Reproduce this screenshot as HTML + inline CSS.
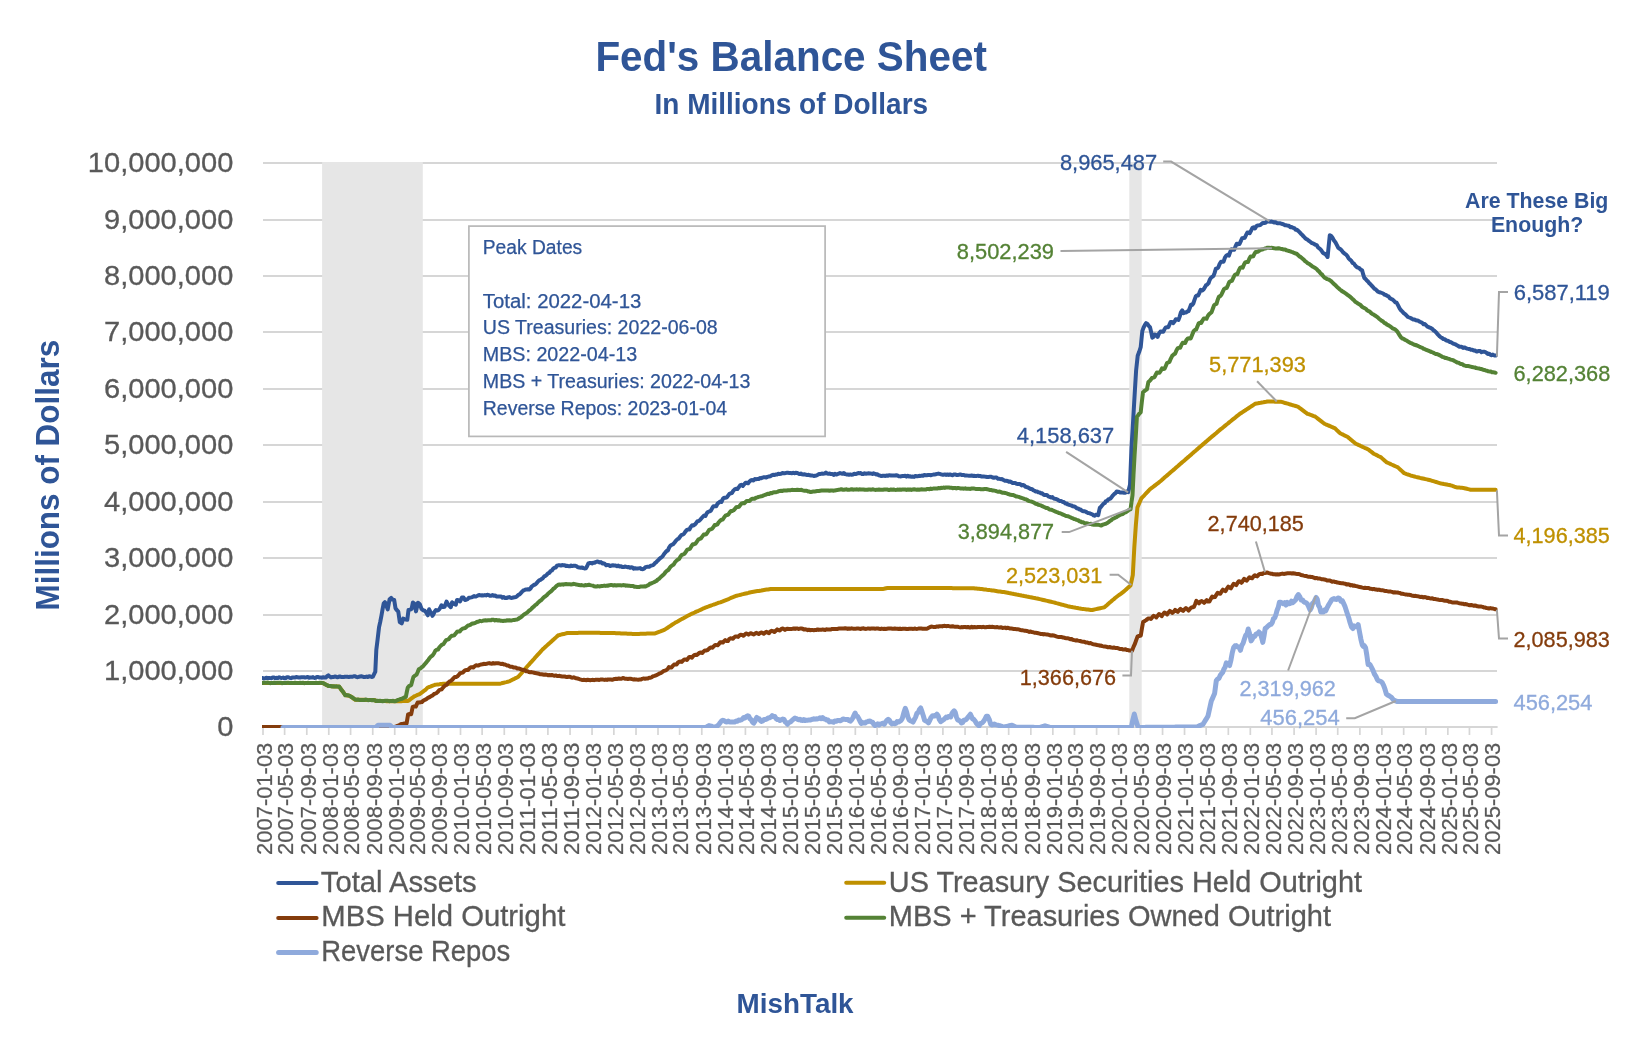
<!DOCTYPE html>
<html lang="en"><head><meta charset="utf-8"><title>Fed's Balance Sheet</title>
<style>html,body{margin:0;padding:0;background:#fff}svg{display:block}svg{will-change:transform}text{font-family:"Liberation Sans",sans-serif}.ser{fill:none;stroke-linejoin:round;stroke-linecap:round}.ld{fill:none;stroke:#A4A4A4;stroke-width:2;stroke-linejoin:miter}</style></head><body>
<svg width="1627" height="1045" viewBox="0 0 1627 1045">
<rect width="1627" height="1045" fill="#fff"/>
<line x1="263.0" x2="1497.0" y1="671.00" y2="671.00" stroke="#D6D6D6" stroke-width="2"/>
<line x1="263.0" x2="1497.0" y1="615.00" y2="615.00" stroke="#D6D6D6" stroke-width="2"/>
<line x1="263.0" x2="1497.0" y1="558.00" y2="558.00" stroke="#D6D6D6" stroke-width="2"/>
<line x1="263.0" x2="1497.0" y1="502.00" y2="502.00" stroke="#D6D6D6" stroke-width="2"/>
<line x1="263.0" x2="1497.0" y1="445.00" y2="445.00" stroke="#D6D6D6" stroke-width="2"/>
<line x1="263.0" x2="1497.0" y1="389.00" y2="389.00" stroke="#D6D6D6" stroke-width="2"/>
<line x1="263.0" x2="1497.0" y1="332.00" y2="332.00" stroke="#D6D6D6" stroke-width="2"/>
<line x1="263.0" x2="1497.0" y1="276.00" y2="276.00" stroke="#D6D6D6" stroke-width="2"/>
<line x1="263.0" x2="1497.0" y1="220.00" y2="220.00" stroke="#D6D6D6" stroke-width="2"/>
<line x1="263.0" x2="1497.0" y1="163.00" y2="163.00" stroke="#D6D6D6" stroke-width="2"/>
<line x1="263.0" x2="1497.6" y1="727.00" y2="727.00" stroke="#D6D6D6" stroke-width="2"/>
<line x1="263.00" x2="263.00" y1="727.0" y2="735.0" stroke="#D6D6D6" stroke-width="1.7"/>
<line x1="284.62" x2="284.62" y1="727.0" y2="735.0" stroke="#D6D6D6" stroke-width="1.7"/>
<line x1="306.79" x2="306.79" y1="727.0" y2="735.0" stroke="#D6D6D6" stroke-width="1.7"/>
<line x1="328.77" x2="328.77" y1="727.0" y2="735.0" stroke="#D6D6D6" stroke-width="1.7"/>
<line x1="350.58" x2="350.58" y1="727.0" y2="735.0" stroke="#D6D6D6" stroke-width="1.7"/>
<line x1="372.74" x2="372.74" y1="727.0" y2="735.0" stroke="#D6D6D6" stroke-width="1.7"/>
<line x1="394.73" x2="394.73" y1="727.0" y2="735.0" stroke="#D6D6D6" stroke-width="1.7"/>
<line x1="416.35" x2="416.35" y1="727.0" y2="735.0" stroke="#D6D6D6" stroke-width="1.7"/>
<line x1="438.51" x2="438.51" y1="727.0" y2="735.0" stroke="#D6D6D6" stroke-width="1.7"/>
<line x1="460.50" x2="460.50" y1="727.0" y2="735.0" stroke="#D6D6D6" stroke-width="1.7"/>
<line x1="482.12" x2="482.12" y1="727.0" y2="735.0" stroke="#D6D6D6" stroke-width="1.7"/>
<line x1="504.29" x2="504.29" y1="727.0" y2="735.0" stroke="#D6D6D6" stroke-width="1.7"/>
<line x1="526.27" x2="526.27" y1="727.0" y2="735.0" stroke="#D6D6D6" stroke-width="1.7"/>
<line x1="547.90" x2="547.90" y1="727.0" y2="735.0" stroke="#D6D6D6" stroke-width="1.7"/>
<line x1="570.06" x2="570.06" y1="727.0" y2="735.0" stroke="#D6D6D6" stroke-width="1.7"/>
<line x1="592.05" x2="592.05" y1="727.0" y2="735.0" stroke="#D6D6D6" stroke-width="1.7"/>
<line x1="613.85" x2="613.85" y1="727.0" y2="735.0" stroke="#D6D6D6" stroke-width="1.7"/>
<line x1="636.01" x2="636.01" y1="727.0" y2="735.0" stroke="#D6D6D6" stroke-width="1.7"/>
<line x1="658.00" x2="658.00" y1="727.0" y2="735.0" stroke="#D6D6D6" stroke-width="1.7"/>
<line x1="679.62" x2="679.62" y1="727.0" y2="735.0" stroke="#D6D6D6" stroke-width="1.7"/>
<line x1="701.79" x2="701.79" y1="727.0" y2="735.0" stroke="#D6D6D6" stroke-width="1.7"/>
<line x1="723.77" x2="723.77" y1="727.0" y2="735.0" stroke="#D6D6D6" stroke-width="1.7"/>
<line x1="745.40" x2="745.40" y1="727.0" y2="735.0" stroke="#D6D6D6" stroke-width="1.7"/>
<line x1="767.56" x2="767.56" y1="727.0" y2="735.0" stroke="#D6D6D6" stroke-width="1.7"/>
<line x1="789.54" x2="789.54" y1="727.0" y2="735.0" stroke="#D6D6D6" stroke-width="1.7"/>
<line x1="811.17" x2="811.17" y1="727.0" y2="735.0" stroke="#D6D6D6" stroke-width="1.7"/>
<line x1="833.33" x2="833.33" y1="727.0" y2="735.0" stroke="#D6D6D6" stroke-width="1.7"/>
<line x1="855.32" x2="855.32" y1="727.0" y2="735.0" stroke="#D6D6D6" stroke-width="1.7"/>
<line x1="877.12" x2="877.12" y1="727.0" y2="735.0" stroke="#D6D6D6" stroke-width="1.7"/>
<line x1="899.29" x2="899.29" y1="727.0" y2="735.0" stroke="#D6D6D6" stroke-width="1.7"/>
<line x1="921.27" x2="921.27" y1="727.0" y2="735.0" stroke="#D6D6D6" stroke-width="1.7"/>
<line x1="942.89" x2="942.89" y1="727.0" y2="735.0" stroke="#D6D6D6" stroke-width="1.7"/>
<line x1="965.06" x2="965.06" y1="727.0" y2="735.0" stroke="#D6D6D6" stroke-width="1.7"/>
<line x1="987.04" x2="987.04" y1="727.0" y2="735.0" stroke="#D6D6D6" stroke-width="1.7"/>
<line x1="1008.67" x2="1008.67" y1="727.0" y2="735.0" stroke="#D6D6D6" stroke-width="1.7"/>
<line x1="1030.83" x2="1030.83" y1="727.0" y2="735.0" stroke="#D6D6D6" stroke-width="1.7"/>
<line x1="1052.82" x2="1052.82" y1="727.0" y2="735.0" stroke="#D6D6D6" stroke-width="1.7"/>
<line x1="1074.44" x2="1074.44" y1="727.0" y2="735.0" stroke="#D6D6D6" stroke-width="1.7"/>
<line x1="1096.61" x2="1096.61" y1="727.0" y2="735.0" stroke="#D6D6D6" stroke-width="1.7"/>
<line x1="1118.59" x2="1118.59" y1="727.0" y2="735.0" stroke="#D6D6D6" stroke-width="1.7"/>
<line x1="1140.39" x2="1140.39" y1="727.0" y2="735.0" stroke="#D6D6D6" stroke-width="1.7"/>
<line x1="1162.56" x2="1162.56" y1="727.0" y2="735.0" stroke="#D6D6D6" stroke-width="1.7"/>
<line x1="1184.54" x2="1184.54" y1="727.0" y2="735.0" stroke="#D6D6D6" stroke-width="1.7"/>
<line x1="1206.17" x2="1206.17" y1="727.0" y2="735.0" stroke="#D6D6D6" stroke-width="1.7"/>
<line x1="1228.33" x2="1228.33" y1="727.0" y2="735.0" stroke="#D6D6D6" stroke-width="1.7"/>
<line x1="1250.32" x2="1250.32" y1="727.0" y2="735.0" stroke="#D6D6D6" stroke-width="1.7"/>
<line x1="1271.94" x2="1271.94" y1="727.0" y2="735.0" stroke="#D6D6D6" stroke-width="1.7"/>
<line x1="1294.10" x2="1294.10" y1="727.0" y2="735.0" stroke="#D6D6D6" stroke-width="1.7"/>
<line x1="1316.09" x2="1316.09" y1="727.0" y2="735.0" stroke="#D6D6D6" stroke-width="1.7"/>
<line x1="1337.71" x2="1337.71" y1="727.0" y2="735.0" stroke="#D6D6D6" stroke-width="1.7"/>
<line x1="1359.88" x2="1359.88" y1="727.0" y2="735.0" stroke="#D6D6D6" stroke-width="1.7"/>
<line x1="1381.86" x2="1381.86" y1="727.0" y2="735.0" stroke="#D6D6D6" stroke-width="1.7"/>
<line x1="1403.67" x2="1403.67" y1="727.0" y2="735.0" stroke="#D6D6D6" stroke-width="1.7"/>
<line x1="1425.83" x2="1425.83" y1="727.0" y2="735.0" stroke="#D6D6D6" stroke-width="1.7"/>
<line x1="1447.82" x2="1447.82" y1="727.0" y2="735.0" stroke="#D6D6D6" stroke-width="1.7"/>
<line x1="1469.44" x2="1469.44" y1="727.0" y2="735.0" stroke="#D6D6D6" stroke-width="1.7"/>
<line x1="1491.60" x2="1491.60" y1="727.0" y2="735.0" stroke="#D6D6D6" stroke-width="1.7"/>
<rect x="322.1" y="162" width="100.7" height="564.9" fill="#E6E6E6"/>
<rect x="1129.3" y="162" width="12.4" height="564.9" fill="#E6E6E6"/>
<rect x="468.9" y="226.1" width="356.2" height="210.3" fill="#fff" stroke="#B8B8B8" stroke-width="1.7"/>
<clipPath id="pc"><rect x="262" y="150" width="1236.3" height="578"/></clipPath><g clip-path="url(#pc)">
<path class="ser" d="M262.3,678.0 L263.6,678.4 L264.9,678.3 L266.2,677.7 L267.5,677.9 L268.8,677.9 L270.1,678.1 L271.4,678.2 L272.7,677.4 L274.0,677.4 L275.3,678.2 L276.6,677.8 L277.9,678.1 L279.2,677.3 L280.5,677.7 L281.8,678.0 L283.1,677.5 L284.4,678.3 L285.7,678.2 L287.0,677.2 L288.3,677.2 L289.6,677.8 L290.9,678.2 L292.2,677.6 L293.5,677.4 L294.8,677.6 L296.1,677.1 L297.4,677.3 L298.7,677.5 L300.0,677.6 L301.3,677.3 L302.6,677.3 L303.9,677.2 L305.2,677.5 L306.5,677.3 L307.8,677.0 L309.1,677.8 L310.4,677.5 L311.7,677.6 L313.0,677.1 L314.3,677.9 L315.6,677.8 L316.9,676.9 L318.2,677.1 L319.5,677.5 L320.8,677.5 L322.1,677.7 L323.4,677.2 L324.7,677.6 L326.0,677.4 L327.2,676.0 L328.5,675.4 L329.8,676.6 L331.0,677.4 L332.3,677.0 L333.5,677.1 L334.8,676.4 L336.1,676.7 L337.3,677.3 L338.6,676.8 L339.9,676.5 L341.1,676.9 L342.4,677.1 L343.7,677.1 L344.9,676.7 L346.2,676.8 L347.5,676.8 L348.7,677.1 L350.0,676.8 L351.3,676.7 L352.5,676.8 L353.8,676.2 L355.1,676.2 L356.4,676.9 L357.6,677.2 L358.9,676.8 L360.2,676.5 L361.4,676.3 L362.7,676.6 L364.0,677.1 L365.3,676.9 L366.5,676.6 L367.8,677.0 L369.1,676.3 L370.4,676.5 L371.6,677.0 L372.9,676.6 L374.1,674.2 L375.3,671.7 L376.3,650.1 L377.6,639.5 L379.0,627.4 L380.2,622.0 L381.4,615.8 L382.5,609.6 L383.7,603.3 L384.9,602.1 L386.3,605.6 L387.7,609.4 L389.6,599.2 L391.1,597.9 L392.6,599.6 L394.2,600.0 L395.5,608.3 L396.9,610.2 L398.3,611.7 L399.8,622.1 L401.7,623.4 L403.2,618.6 L404.6,619.1 L405.9,619.5 L407.3,619.8 L408.5,610.0 L410.1,609.6 L411.6,608.9 L412.9,602.5 L414.8,604.1 L416.0,611.4 L417.9,602.7 L419.7,604.0 L421.6,609.0 L423.1,610.3 L424.7,610.7 L426.2,612.5 L427.8,615.3 L429.1,609.3 L430.2,611.5 L431.4,613.4 L432.5,615.8 L433.6,613.9 L434.8,611.4 L435.9,610.0 L437.1,610.6 L438.4,610.1 L439.6,608.9 L441.5,605.3 L443.1,607.1 L444.6,606.7 L446.5,601.6 L447.9,604.0 L449.4,605.9 L450.8,607.2 L452.1,602.3 L453.3,603.1 L454.6,604.2 L455.8,604.7 L457.0,599.9 L458.6,600.2 L460.1,601.3 L462.0,597.4 L463.5,597.6 L465.0,600.0 L466.2,599.8 L467.5,599.2 L468.8,597.7 L470.0,597.7 L471.4,597.3 L472.8,596.8 L474.2,596.1 L475.6,596.6 L477.0,596.0 L478.4,595.3 L479.7,595.0 L481.0,595.5 L482.2,595.2 L483.5,595.4 L484.8,595.1 L486.1,595.4 L487.4,594.8 L488.7,595.1 L489.9,595.8 L491.2,595.7 L492.5,595.1 L493.8,595.7 L495.0,595.4 L496.3,596.4 L497.5,596.4 L498.8,596.4 L500.0,596.5 L501.2,596.5 L502.5,597.7 L503.7,597.1 L505.1,597.9 L506.4,598.0 L507.8,597.5 L509.2,597.1 L510.5,597.8 L511.9,597.9 L513.3,597.5 L514.6,597.3 L516.0,597.1 L517.2,596.0 L518.4,594.8 L519.6,594.3 L520.9,593.0 L522.1,591.6 L523.3,590.5 L524.5,590.1 L525.6,589.5 L526.8,589.5 L528.0,589.2 L529.1,589.6 L530.4,588.6 L531.6,586.6 L532.9,585.7 L534.1,584.8 L535.4,584.5 L536.6,583.2 L537.9,581.6 L539.1,580.4 L540.4,579.9 L541.6,579.0 L542.9,578.1 L544.2,576.4 L545.5,575.9 L546.8,574.7 L548.0,573.4 L549.3,572.9 L550.6,571.0 L551.9,570.5 L553.2,568.7 L554.4,567.8 L555.7,567.6 L557.0,565.7 L558.3,565.3 L559.6,565.2 L560.9,565.6 L562.1,565.1 L563.4,565.2 L564.7,565.2 L566.0,566.0 L567.3,565.8 L568.6,566.2 L569.9,566.3 L571.1,565.5 L572.4,566.1 L573.7,565.7 L575.1,565.8 L576.4,566.1 L577.8,567.3 L579.1,567.4 L580.5,567.7 L581.8,567.5 L583.2,568.0 L584.5,568.5 L585.9,568.3 L587.1,566.2 L588.3,563.5 L589.5,563.1 L590.8,563.0 L592.0,563.4 L593.2,562.7 L594.5,562.8 L595.7,562.0 L597.0,561.5 L598.2,561.8 L599.5,562.4 L600.9,562.1 L602.2,563.4 L603.5,563.3 L604.8,563.9 L606.2,565.3 L607.5,564.9 L608.9,565.2 L610.2,566.1 L611.6,565.5 L612.9,565.3 L614.3,565.4 L615.6,565.6 L617.0,566.2 L618.3,565.6 L619.7,566.6 L621.0,566.2 L622.3,567.0 L623.6,567.1 L624.8,566.6 L626.1,566.8 L627.4,567.2 L628.7,567.0 L630.0,567.8 L631.2,567.3 L632.5,567.5 L633.8,568.7 L635.1,568.2 L636.4,568.6 L637.7,568.4 L639.0,568.3 L640.2,568.1 L641.5,569.1 L642.8,569.2 L644.1,568.7 L645.5,567.2 L646.9,566.8 L648.2,566.8 L649.5,566.7 L650.9,565.7 L652.2,565.3 L653.6,564.8 L654.9,563.2 L656.1,562.3 L657.4,560.9 L658.7,559.7 L659.9,558.4 L661.2,557.5 L662.5,556.5 L663.9,554.3 L665.2,552.6 L666.5,551.1 L667.9,550.4 L669.2,547.4 L670.6,545.4 L671.9,544.7 L673.2,544.1 L674.6,542.5 L676.0,540.6 L677.3,539.3 L678.6,538.7 L680.0,536.8 L681.3,535.1 L682.7,534.6 L684.0,533.8 L685.4,531.6 L686.7,530.1 L688.0,529.4 L689.4,529.5 L690.7,527.0 L692.1,525.3 L693.4,525.4 L694.8,524.6 L696.1,523.2 L697.5,521.2 L698.8,521.1 L700.1,519.9 L701.5,518.3 L702.8,516.8 L704.2,515.4 L705.5,515.9 L706.9,513.0 L708.2,511.8 L709.5,511.4 L710.9,510.7 L712.2,508.1 L713.5,506.2 L714.9,506.2 L716.2,506.3 L717.5,503.7 L718.8,502.7 L720.2,501.4 L721.5,501.9 L722.8,499.0 L724.1,497.7 L725.4,497.8 L726.8,497.4 L728.1,495.6 L729.4,493.8 L730.7,493.3 L732.0,493.0 L733.4,490.6 L734.7,489.4 L736.0,488.8 L737.4,489.1 L738.7,487.3 L740.1,485.4 L741.4,484.8 L742.8,485.9 L744.1,484.3 L745.5,482.8 L746.8,482.8 L748.1,483.3 L749.5,481.4 L750.9,480.2 L752.2,480.1 L753.5,480.5 L754.8,479.1 L756.1,479.2 L757.3,479.1 L758.6,479.1 L759.9,478.1 L761.2,478.2 L762.5,477.6 L763.8,477.3 L765.0,477.2 L766.3,477.5 L767.6,476.8 L768.9,476.4 L770.3,476.2 L771.6,475.4 L773.0,474.8 L774.3,475.0 L775.6,474.6 L777.0,474.4 L778.3,473.7 L779.7,473.9 L781.0,473.8 L782.4,473.1 L783.8,473.3 L785.1,473.2 L786.5,472.8 L787.9,472.8 L789.2,472.9 L790.6,473.1 L791.9,473.3 L793.2,472.7 L794.5,473.3 L795.7,472.7 L797.0,472.9 L798.3,473.5 L799.6,474.1 L800.9,473.5 L802.1,474.3 L803.4,474.6 L804.7,474.2 L806.0,474.8 L807.3,475.1 L808.6,474.8 L809.9,475.3 L811.1,475.5 L812.4,475.5 L813.7,476.0 L815.1,475.7 L816.4,475.5 L817.8,474.8 L819.1,474.1 L820.5,473.9 L821.8,473.6 L823.2,473.7 L824.5,473.6 L825.9,472.5 L827.2,473.5 L828.5,473.8 L829.8,473.6 L831.0,474.1 L832.3,474.0 L833.6,474.9 L834.9,473.8 L836.2,474.6 L837.5,474.1 L838.7,473.7 L840.0,473.0 L841.3,473.5 L842.6,473.8 L843.9,473.1 L845.1,474.1 L846.4,474.4 L847.7,474.5 L849.0,474.8 L850.3,474.4 L851.6,474.8 L852.9,474.6 L854.3,473.8 L855.6,474.1 L856.9,473.6 L858.2,473.1 L859.5,473.3 L860.8,473.1 L862.1,474.0 L863.3,474.1 L864.6,473.2 L865.9,473.8 L867.2,473.6 L868.5,473.3 L869.8,473.5 L871.0,473.5 L872.3,474.0 L873.6,473.3 L874.9,473.8 L876.2,474.4 L877.5,474.3 L878.9,475.3 L880.2,475.6 L881.5,476.1 L882.8,475.8 L884.2,475.7 L885.5,475.9 L886.9,475.5 L888.3,475.7 L889.6,475.2 L891.0,475.6 L892.4,475.6 L893.7,475.5 L895.1,475.5 L896.3,475.3 L897.5,475.5 L898.8,476.2 L900.0,476.4 L901.3,476.2 L902.6,476.0 L903.9,475.9 L905.1,475.8 L906.4,476.6 L907.7,475.8 L909.0,476.5 L910.3,476.3 L911.5,476.8 L912.8,476.6 L914.1,476.9 L915.4,476.0 L916.7,476.3 L918.0,476.2 L919.2,475.8 L920.5,475.9 L921.8,475.6 L923.1,475.7 L924.3,475.0 L925.6,475.3 L926.9,475.2 L928.2,474.9 L929.5,474.9 L930.7,475.2 L932.0,474.9 L933.3,474.6 L934.6,474.6 L935.8,474.2 L937.1,473.9 L938.4,473.6 L939.7,473.9 L941.0,474.3 L942.2,474.7 L943.5,474.7 L944.8,474.4 L946.1,474.9 L947.4,474.4 L948.7,474.9 L950.0,474.4 L951.2,474.9 L952.5,475.2 L953.8,474.5 L955.1,474.4 L956.4,474.9 L957.6,474.9 L958.9,474.7 L960.2,474.4 L961.5,474.9 L962.8,475.0 L964.0,475.0 L965.3,475.6 L966.6,475.4 L967.8,475.6 L969.1,475.8 L970.4,475.7 L971.6,475.5 L972.9,475.9 L974.1,475.8 L975.4,475.9 L976.7,475.9 L977.9,475.7 L979.2,476.0 L980.5,476.1 L981.7,476.5 L983.0,476.4 L984.4,476.6 L985.7,476.7 L987.1,476.9 L988.5,476.9 L989.8,476.8 L991.2,476.8 L992.6,477.5 L993.9,477.8 L995.3,477.6 L996.7,477.6 L998.0,478.8 L999.4,478.8 L1000.8,479.2 L1002.1,479.1 L1003.5,480.0 L1004.9,480.7 L1006.2,480.7 L1007.6,481.0 L1008.9,481.7 L1010.1,481.4 L1011.4,482.2 L1012.7,483.1 L1014.0,483.1 L1015.2,483.1 L1016.5,483.8 L1017.8,484.0 L1019.1,484.0 L1020.4,484.3 L1021.6,485.4 L1022.9,485.0 L1024.2,485.4 L1025.5,486.8 L1026.8,487.1 L1028.0,487.5 L1029.3,488.2 L1030.6,489.0 L1031.9,489.0 L1033.2,490.1 L1034.5,490.7 L1035.7,491.4 L1037.0,491.4 L1038.3,492.3 L1039.6,492.4 L1040.9,493.3 L1042.2,493.3 L1043.4,494.5 L1044.7,495.1 L1046.0,495.0 L1047.3,495.3 L1048.6,496.6 L1049.8,496.9 L1051.1,497.5 L1052.4,497.1 L1053.7,498.5 L1055.0,498.8 L1056.2,499.0 L1057.5,499.6 L1058.8,500.5 L1060.1,501.1 L1061.3,501.0 L1062.6,502.0 L1063.9,502.0 L1065.2,503.4 L1066.5,503.4 L1067.7,504.4 L1069.0,504.8 L1070.3,505.2 L1071.6,505.4 L1072.8,506.3 L1074.1,506.4 L1075.4,507.0 L1076.7,508.2 L1078.0,508.4 L1079.3,509.4 L1080.6,509.5 L1081.8,510.6 L1083.1,511.2 L1084.4,511.3 L1085.7,511.6 L1087.0,512.5 L1088.3,513.1 L1089.7,513.2 L1091.0,513.9 L1092.3,514.3 L1093.6,515.4 L1094.8,515.7 L1095.9,514.8 L1097.0,514.6 L1098.2,515.2 L1099.8,507.9 L1101.0,506.9 L1102.2,505.3 L1103.5,503.8 L1104.7,503.1 L1105.9,501.1 L1107.1,500.9 L1108.2,499.5 L1109.3,499.1 L1110.5,498.4 L1111.7,496.9 L1113.0,495.3 L1114.2,494.0 L1115.5,493.2 L1116.7,491.5 L1117.8,491.9 L1119.0,491.8 L1120.2,492.6 L1121.3,492.5 L1122.7,492.6 L1124.1,492.8 L1125.4,492.7 L1126.8,491.5 L1128.2,492.1 L1130.0,484.8 L1131.5,447.4 L1132.7,428.2 L1133.8,409.2 L1134.9,390.4 L1136.1,370.6 L1137.7,355.8 L1139.2,351.8 L1140.7,347.2 L1142.3,331.1 L1143.6,327.5 L1144.8,325.1 L1146.1,323.1 L1147.4,323.9 L1148.7,325.8 L1150.0,327.1 L1151.2,332.1 L1152.3,337.7 L1153.6,336.8 L1154.9,334.5 L1156.3,335.1 L1157.6,336.9 L1159.0,333.5 L1160.4,331.6 L1161.8,331.5 L1163.2,331.8 L1164.6,329.1 L1165.8,327.4 L1167.0,327.3 L1168.3,327.2 L1169.5,324.5 L1170.7,321.9 L1172.0,322.1 L1173.3,323.1 L1174.6,321.4 L1175.8,319.3 L1177.1,319.5 L1178.4,320.0 L1179.7,316.6 L1180.9,312.3 L1182.2,310.4 L1183.5,313.1 L1184.8,312.6 L1186.1,312.5 L1187.3,311.4 L1188.5,311.2 L1189.8,307.9 L1191.0,304.8 L1192.2,304.9 L1193.3,303.5 L1194.5,299.9 L1195.7,296.6 L1196.8,295.6 L1198.1,295.6 L1199.4,292.8 L1200.7,289.8 L1202.1,290.5 L1203.4,289.6 L1204.7,287.6 L1206.0,285.2 L1207.2,284.5 L1208.5,283.2 L1209.7,279.9 L1211.0,277.8 L1212.2,276.8 L1213.4,275.9 L1214.6,272.9 L1215.9,268.7 L1217.1,268.3 L1218.3,267.4 L1219.6,264.0 L1221.0,261.7 L1222.3,261.7 L1223.6,261.7 L1224.9,257.7 L1226.3,255.7 L1227.6,254.8 L1228.9,255.6 L1230.2,251.8 L1231.5,249.3 L1232.9,249.5 L1234.2,249.8 L1235.5,246.4 L1236.8,243.7 L1238.1,244.2 L1239.4,244.1 L1240.7,241.3 L1242.1,238.2 L1243.4,238.1 L1244.7,237.8 L1246.0,235.2 L1247.3,232.6 L1248.6,232.6 L1249.8,233.2 L1251.1,230.6 L1252.4,227.9 L1253.7,227.3 L1255.0,228.5 L1256.3,226.2 L1257.6,225.4 L1259.0,225.3 L1260.3,225.1 L1261.6,223.9 L1262.9,223.0 L1264.1,223.1 L1265.3,222.8 L1266.6,221.9 L1267.8,221.4 L1269.0,221.4 L1270.3,221.8 L1271.7,221.5 L1273.0,222.0 L1274.4,222.5 L1275.8,222.2 L1277.1,223.3 L1278.5,223.3 L1279.8,223.2 L1281.1,223.6 L1282.4,224.0 L1283.7,224.4 L1285.1,225.2 L1286.4,225.3 L1287.7,225.7 L1289.0,225.7 L1290.3,227.2 L1291.6,227.1 L1292.9,227.8 L1294.3,228.1 L1295.6,229.7 L1296.9,229.8 L1298.2,230.9 L1299.5,232.2 L1300.9,233.7 L1302.2,234.9 L1303.5,236.4 L1304.8,237.7 L1306.2,239.0 L1307.5,239.6 L1308.8,240.8 L1310.1,241.6 L1311.4,242.8 L1312.8,243.3 L1314.1,244.0 L1315.4,244.8 L1316.7,245.1 L1317.9,247.2 L1319.1,248.2 L1320.4,249.3 L1321.6,250.8 L1322.8,252.7 L1324.0,253.4 L1325.2,254.1 L1326.4,255.3 L1327.6,257.0 L1328.7,245.9 L1329.8,235.2 L1331.2,236.0 L1332.5,237.7 L1334.0,240.6 L1335.4,242.3 L1336.8,244.9 L1338.3,247.9 L1339.6,248.7 L1340.9,249.7 L1342.2,251.1 L1343.4,252.7 L1344.7,253.7 L1346.0,254.4 L1347.3,256.0 L1348.6,258.3 L1349.9,259.6 L1351.3,260.7 L1352.6,262.9 L1353.9,263.5 L1355.2,265.5 L1356.6,266.9 L1358.0,267.7 L1359.3,268.1 L1360.7,269.7 L1362.1,270.3 L1363.2,274.4 L1364.4,278.2 L1365.6,279.0 L1366.8,280.5 L1368.1,281.6 L1369.3,283.2 L1370.5,284.3 L1371.7,285.6 L1373.0,287.1 L1374.2,288.6 L1375.5,289.2 L1376.7,290.5 L1378.0,291.6 L1379.3,292.2 L1380.6,292.5 L1381.9,293.0 L1383.2,293.5 L1384.5,294.6 L1385.8,295.0 L1387.1,295.8 L1388.5,296.3 L1389.8,298.2 L1391.2,298.9 L1392.5,299.6 L1393.9,300.8 L1395.2,302.3 L1396.6,302.6 L1398.1,305.4 L1399.6,308.3 L1401.0,310.3 L1402.4,311.6 L1403.8,313.2 L1405.2,314.1 L1406.6,315.6 L1408.0,317.0 L1409.3,317.5 L1410.6,318.0 L1411.9,318.8 L1413.2,319.5 L1414.5,319.4 L1415.9,320.2 L1417.2,320.4 L1418.5,320.9 L1419.8,321.7 L1421.1,322.3 L1422.4,323.0 L1423.6,324.3 L1424.9,324.1 L1426.2,325.4 L1427.4,326.6 L1428.7,327.1 L1429.9,327.7 L1431.1,328.2 L1432.4,329.0 L1433.6,330.4 L1434.8,331.1 L1436.0,332.2 L1437.3,333.9 L1438.5,335.2 L1439.8,336.5 L1441.0,337.4 L1442.3,338.1 L1443.5,339.1 L1444.8,339.3 L1446.1,340.4 L1447.3,340.7 L1448.6,341.2 L1449.9,342.0 L1451.2,342.3 L1452.5,343.2 L1453.9,343.9 L1455.2,344.2 L1456.5,345.0 L1457.8,345.7 L1459.1,346.7 L1460.4,346.8 L1461.7,346.8 L1463.1,347.9 L1464.4,347.4 L1465.7,348.0 L1467.0,348.6 L1468.3,348.9 L1469.6,349.0 L1470.9,349.7 L1472.3,349.8 L1473.6,350.4 L1474.9,350.5 L1476.2,351.4 L1477.5,351.4 L1478.8,350.9 L1480.1,351.1 L1481.5,352.3 L1482.8,351.7 L1484.1,351.7 L1485.4,352.1 L1486.6,352.9 L1487.8,353.9 L1489.1,353.7 L1490.3,354.6 L1491.5,355.2 L1492.9,354.6 L1494.2,355.4 L1495.6,355.5" stroke="#2F5597" stroke-width="4"/>
<path class="ser" d="M262.3,682.9 L263.6,682.9 L264.9,682.9 L266.2,682.9 L267.5,682.9 L268.8,682.9 L270.1,682.9 L271.4,682.9 L272.8,682.9 L274.1,682.9 L275.4,682.9 L276.7,682.9 L278.0,682.9 L279.3,682.9 L280.6,682.9 L281.9,682.9 L283.2,682.9 L284.5,682.9 L285.8,682.9 L287.1,682.9 L288.4,682.9 L289.7,682.9 L291.0,682.9 L292.4,682.9 L293.7,682.9 L295.0,682.9 L296.3,682.9 L297.6,682.9 L298.9,682.9 L300.2,682.9 L301.5,682.9 L302.8,682.9 L304.1,682.9 L305.4,682.9 L306.7,682.9 L308.0,682.9 L309.3,682.9 L310.6,682.9 L311.9,682.9 L313.3,682.9 L314.6,682.9 L315.9,682.9 L317.2,682.9 L318.5,682.9 L319.8,682.9 L321.1,682.9 L322.4,682.9 L323.6,683.5 L324.8,684.1 L326.1,684.8 L327.3,685.4 L328.5,686.0 L329.8,686.1 L331.2,686.2 L332.5,686.3 L333.9,686.4 L335.2,686.4 L336.5,686.5 L337.9,686.6 L339.2,686.7 L340.4,688.4 L341.6,690.1 L342.9,691.7 L344.1,693.4 L345.3,695.1 L346.4,695.3 L347.6,695.5 L348.8,695.7 L349.9,695.9 L351.2,696.9 L352.6,697.8 L353.9,698.8 L355.3,699.7 L356.6,699.7 L357.8,699.7 L359.1,699.8 L360.4,699.8 L361.7,699.8 L362.9,699.8 L364.2,699.8 L365.5,699.9 L366.8,699.9 L368.0,699.9 L369.3,699.9 L370.6,699.9 L371.9,700.0 L373.1,700.0 L374.4,700.0 L376.0,701.0 L377.3,701.0 L378.7,701.0 L380.0,701.1 L381.3,701.1 L382.6,701.1 L384.0,701.1 L385.3,701.1 L386.6,701.2 L387.9,701.2 L389.3,701.2 L390.6,701.2 L391.9,701.2 L393.2,701.3 L394.6,701.3 L395.9,701.3 L397.3,701.3 L398.6,701.2 L400.0,701.2 L401.3,701.2 L402.7,701.1 L404.0,701.1 L405.4,701.1 L406.7,701.0 L408.1,701.0 L409.3,700.1 L410.5,699.2 L411.8,698.2 L413.0,697.3 L414.2,696.4 L415.6,695.8 L416.9,695.2 L418.2,694.7 L419.6,694.1 L421.0,693.1 L422.3,692.2 L423.6,691.2 L425.0,690.2 L426.4,688.9 L427.7,687.5 L429.0,687.0 L430.3,686.6 L431.5,686.1 L432.8,685.6 L434.1,685.2 L435.4,684.7 L436.7,684.6 L438.0,684.4 L439.3,684.3 L440.7,684.1 L442.0,684.0 L443.3,683.8 L444.6,683.7 L445.9,683.7 L447.2,683.7 L448.5,683.7 L449.7,683.7 L451.0,683.7 L452.3,683.7 L453.6,683.7 L454.9,683.7 L456.2,683.7 L457.5,683.7 L458.7,683.7 L460.0,683.7 L461.3,683.7 L462.6,683.7 L463.9,683.7 L465.2,683.7 L466.5,683.7 L467.7,683.7 L469.0,683.7 L470.3,683.7 L471.6,683.7 L472.9,683.7 L474.2,683.7 L475.5,683.7 L476.8,683.7 L478.0,683.7 L479.3,683.7 L480.6,683.7 L481.9,683.7 L483.2,683.7 L484.5,683.7 L485.8,683.7 L487.0,683.7 L488.3,683.7 L489.6,683.7 L490.9,683.7 L492.2,683.7 L493.5,683.7 L494.8,683.7 L496.0,683.7 L497.3,683.7 L498.6,683.7 L499.9,683.7 L501.2,683.4 L502.5,683.0 L503.8,682.7 L505.2,682.4 L506.5,682.1 L507.8,681.7 L509.1,681.4 L510.4,680.7 L511.7,680.1 L513.0,679.4 L514.4,678.8 L515.7,678.1 L517.0,677.5 L518.3,676.8 L519.6,675.3 L521.0,673.7 L522.3,672.2 L523.6,670.6 L524.9,669.1 L526.3,667.5 L527.6,666.0 L528.9,664.6 L530.1,663.2 L531.4,661.8 L532.7,660.4 L534.0,659.0 L535.2,657.5 L536.5,656.1 L537.8,654.7 L539.1,653.3 L540.4,651.9 L541.6,650.5 L542.9,649.1 L544.2,648.0 L545.5,646.8 L546.8,645.6 L548.0,644.5 L549.3,643.4 L550.6,642.2 L551.9,641.0 L553.2,639.9 L554.4,638.8 L555.7,637.6 L557.0,636.4 L558.3,635.3 L559.6,635.0 L560.9,634.6 L562.2,634.3 L563.6,634.0 L564.9,633.7 L566.2,633.3 L567.5,633.0 L568.8,633.0 L570.0,633.0 L571.3,632.9 L572.6,632.9 L573.8,632.9 L575.1,632.9 L576.4,632.9 L577.6,632.9 L578.9,632.8 L580.1,632.8 L581.4,632.8 L582.7,632.8 L583.9,632.8 L585.2,632.8 L586.5,632.7 L587.7,632.7 L589.0,632.7 L590.3,632.7 L591.6,632.7 L592.9,632.8 L594.1,632.8 L595.4,632.8 L596.7,632.8 L598.0,632.8 L599.3,632.8 L600.5,632.9 L601.8,632.9 L603.1,632.9 L604.4,632.9 L605.7,632.9 L607.0,632.9 L608.2,633.0 L609.5,633.0 L610.8,633.0 L612.1,633.0 L613.4,633.1 L614.7,633.1 L615.9,633.2 L617.2,633.2 L618.5,633.3 L619.8,633.3 L621.0,633.4 L622.3,633.4 L623.6,633.5 L624.9,633.6 L626.2,633.6 L627.4,633.7 L628.7,633.7 L630.0,633.8 L631.3,633.8 L632.5,633.9 L633.8,633.9 L635.1,634.0 L636.4,634.0 L637.8,633.9 L639.1,633.9 L640.4,633.8 L641.8,633.8 L643.1,633.8 L644.4,633.7 L645.8,633.7 L647.1,633.6 L648.4,633.6 L649.8,633.6 L651.1,633.5 L652.4,633.5 L653.8,633.4 L655.1,633.4 L656.4,632.9 L657.7,632.4 L659.0,631.9 L660.4,631.4 L661.7,630.9 L663.0,630.4 L664.3,629.9 L665.5,629.1 L666.8,628.3 L668.0,627.5 L669.2,626.7 L670.5,625.8 L671.7,625.0 L672.9,624.2 L674.2,623.4 L675.4,622.6 L676.7,621.9 L678.0,621.2 L679.2,620.5 L680.5,619.8 L681.8,619.1 L683.0,618.4 L684.3,617.7 L685.6,617.0 L686.9,616.3 L688.2,615.6 L689.4,614.9 L690.7,614.2 L692.0,613.6 L693.3,613.1 L694.6,612.5 L695.8,611.9 L697.1,611.3 L698.4,610.8 L699.7,610.2 L701.0,609.6 L702.2,609.0 L703.5,608.4 L704.8,607.9 L706.1,607.3 L707.4,606.8 L708.7,606.4 L710.0,605.9 L711.2,605.5 L712.5,605.0 L713.8,604.5 L715.1,604.1 L716.4,603.6 L717.6,603.2 L718.9,602.7 L720.2,602.3 L721.5,601.8 L722.8,601.3 L724.0,600.8 L725.3,600.3 L726.6,599.8 L727.9,599.3 L729.1,598.8 L730.4,598.2 L731.7,597.7 L733.0,597.2 L734.2,596.7 L735.5,596.2 L736.8,595.7 L738.1,595.4 L739.4,595.1 L740.6,594.8 L741.9,594.4 L743.2,594.1 L744.5,593.8 L745.8,593.5 L747.1,593.2 L748.4,592.9 L749.6,592.5 L750.9,592.2 L752.2,591.9 L753.5,591.7 L754.8,591.5 L756.1,591.3 L757.5,591.1 L758.8,590.9 L760.1,590.7 L761.4,590.5 L762.7,590.2 L764.0,590.0 L765.3,589.8 L766.7,589.6 L768.0,589.4 L769.3,589.2 L770.6,589.0 L771.9,589.0 L773.2,589.0 L774.5,589.0 L775.8,589.0 L777.1,589.0 L778.4,589.0 L779.7,589.0 L781.0,589.0 L782.3,589.0 L783.6,589.0 L785.0,589.0 L786.3,589.0 L787.6,589.0 L788.9,589.0 L790.2,589.0 L791.5,589.0 L792.8,589.0 L794.1,589.0 L795.4,589.0 L796.7,589.0 L798.0,589.0 L799.3,589.0 L800.6,589.0 L801.9,589.0 L803.2,589.0 L804.5,589.0 L805.8,589.0 L807.1,589.0 L808.4,589.0 L809.7,589.0 L811.0,589.0 L812.3,589.0 L813.7,589.0 L815.0,589.0 L816.3,589.0 L817.6,589.0 L818.9,589.0 L820.2,589.0 L821.5,589.0 L822.8,589.0 L824.1,589.0 L825.4,589.0 L826.7,589.0 L828.0,589.0 L829.3,589.0 L830.6,589.0 L831.9,589.0 L833.2,589.0 L834.5,589.0 L835.8,589.0 L837.1,589.0 L838.4,589.0 L839.7,589.0 L841.1,589.0 L842.4,589.0 L843.7,589.0 L845.0,589.0 L846.3,589.0 L847.6,589.0 L848.9,589.0 L850.2,589.0 L851.5,589.0 L852.8,589.0 L854.1,589.0 L855.4,589.0 L856.7,589.0 L858.0,589.0 L859.3,589.0 L860.6,589.0 L861.9,589.0 L863.2,589.0 L864.5,589.0 L865.8,589.0 L867.1,589.0 L868.4,589.0 L869.8,589.0 L871.1,589.0 L872.4,589.0 L873.7,589.0 L875.0,589.0 L876.3,589.0 L877.6,589.0 L878.9,589.0 L880.2,589.0 L881.5,589.0 L882.8,589.0 L883.9,588.8 L885.1,588.5 L886.2,588.2 L887.4,588.0 L888.7,588.0 L890.0,588.0 L891.3,588.0 L892.6,588.0 L893.9,588.0 L895.3,588.0 L896.6,588.0 L897.9,588.0 L899.2,588.0 L900.5,588.0 L901.8,588.0 L903.1,588.0 L904.4,588.0 L905.7,588.0 L907.0,588.0 L908.3,588.0 L909.7,588.1 L911.0,588.1 L912.3,588.1 L913.6,588.1 L914.9,588.1 L916.2,588.1 L917.5,588.1 L918.8,588.1 L920.1,588.1 L921.4,588.1 L922.7,588.1 L924.1,588.1 L925.4,588.1 L926.7,588.1 L928.0,588.1 L929.3,588.1 L930.6,588.1 L931.9,588.1 L933.2,588.1 L934.5,588.1 L935.8,588.1 L937.1,588.1 L938.5,588.1 L939.8,588.1 L941.1,588.1 L942.4,588.1 L943.7,588.1 L945.0,588.1 L946.3,588.1 L947.6,588.1 L948.9,588.1 L950.2,588.1 L951.5,588.1 L952.9,588.2 L954.2,588.2 L955.5,588.2 L956.8,588.2 L958.1,588.2 L959.4,588.2 L960.7,588.2 L962.0,588.2 L963.3,588.2 L964.6,588.2 L965.9,588.2 L967.3,588.2 L968.6,588.2 L969.9,588.2 L971.2,588.2 L972.5,588.2 L973.8,588.2 L975.1,588.4 L976.4,588.5 L977.7,588.7 L979.1,588.8 L980.4,589.0 L981.7,589.1 L983.0,589.3 L984.3,589.5 L985.6,589.6 L986.9,589.8 L988.3,589.9 L989.6,590.1 L990.9,590.2 L992.2,590.4 L993.5,590.6 L994.8,590.8 L996.1,591.0 L997.3,591.2 L998.6,591.4 L999.9,591.5 L1001.2,591.7 L1002.5,591.9 L1003.8,592.1 L1005.0,592.3 L1006.3,592.5 L1007.6,592.7 L1008.9,593.0 L1010.1,593.2 L1011.4,593.5 L1012.7,593.7 L1014.0,594.0 L1015.2,594.2 L1016.5,594.5 L1017.8,594.7 L1019.1,595.0 L1020.4,595.2 L1021.6,595.5 L1022.9,595.7 L1024.2,596.0 L1025.5,596.2 L1026.8,596.5 L1028.0,596.7 L1029.3,597.0 L1030.6,597.2 L1031.9,597.5 L1033.2,597.8 L1034.5,598.0 L1035.7,598.3 L1037.0,598.5 L1038.3,598.8 L1039.6,599.1 L1040.9,599.4 L1042.2,599.7 L1043.4,600.0 L1044.7,600.3 L1046.0,600.6 L1047.3,600.9 L1048.6,601.2 L1049.8,601.5 L1051.1,601.8 L1052.4,602.1 L1053.7,602.4 L1055.0,602.7 L1056.2,603.1 L1057.5,603.4 L1058.8,603.8 L1060.1,604.1 L1061.3,604.5 L1062.6,604.8 L1063.9,605.1 L1065.2,605.5 L1066.5,605.8 L1067.7,606.2 L1069.0,606.5 L1070.4,606.8 L1071.7,607.0 L1073.1,607.3 L1074.5,607.5 L1075.8,607.8 L1077.2,608.0 L1078.6,608.3 L1079.9,608.5 L1081.3,608.8 L1082.6,608.9 L1084.0,609.1 L1085.3,609.2 L1086.7,609.4 L1088.0,609.5 L1089.4,609.7 L1090.8,609.9 L1092.1,610.0 L1093.5,609.7 L1094.8,609.4 L1096.2,609.1 L1097.6,608.8 L1098.9,608.5 L1100.3,608.2 L1101.7,607.9 L1103.0,607.6 L1104.4,607.3 L1105.7,606.1 L1107.1,605.0 L1108.4,603.8 L1109.8,602.6 L1111.1,601.5 L1112.4,600.3 L1113.8,599.2 L1115.1,598.0 L1116.4,597.0 L1117.7,596.0 L1119.0,595.0 L1120.4,594.1 L1121.7,593.1 L1123.0,592.1 L1124.3,591.1 L1125.5,590.0 L1126.8,588.9 L1128.0,587.7 L1129.3,586.6 L1130.5,585.5 L1131.7,580.3 L1132.8,575.1 L1134.3,547.6 L1135.9,524.5 L1137.4,507.6 L1138.7,504.5 L1140.0,501.5 L1141.3,498.4 L1142.5,497.1 L1143.8,495.8 L1145.0,494.5 L1146.3,493.1 L1147.5,491.8 L1148.8,490.5 L1150.0,489.2 L1151.4,488.1 L1152.8,487.1 L1154.2,486.0 L1155.6,485.0 L1157.0,483.9 L1158.4,482.9 L1159.7,481.8 L1161.0,480.7 L1162.2,479.6 L1163.5,478.5 L1164.8,477.3 L1166.1,476.2 L1167.4,475.1 L1168.7,474.0 L1170.0,472.9 L1171.2,471.8 L1172.5,470.7 L1173.8,469.6 L1175.1,468.5 L1176.4,467.3 L1177.7,466.2 L1178.9,465.1 L1180.2,464.0 L1181.5,462.9 L1182.8,461.8 L1184.1,460.7 L1185.3,459.6 L1186.6,458.5 L1187.9,457.4 L1189.2,456.3 L1190.4,455.2 L1191.7,454.1 L1193.0,452.9 L1194.3,451.8 L1195.6,450.7 L1196.8,449.6 L1198.1,448.5 L1199.4,447.4 L1200.7,446.3 L1201.9,445.2 L1203.2,444.1 L1204.5,443.0 L1205.8,441.9 L1207.1,440.8 L1208.3,439.7 L1209.6,438.6 L1210.9,437.5 L1212.2,436.4 L1213.5,435.4 L1214.8,434.3 L1216.1,433.2 L1217.3,432.1 L1218.6,431.0 L1219.9,429.9 L1221.2,428.8 L1222.6,427.8 L1223.9,426.7 L1225.2,425.6 L1226.6,424.5 L1227.9,423.5 L1229.2,422.4 L1230.6,421.3 L1231.9,420.2 L1233.2,419.2 L1234.6,418.1 L1235.9,417.0 L1237.2,415.9 L1238.6,414.9 L1239.9,413.8 L1241.2,413.0 L1242.5,412.1 L1243.7,411.3 L1245.0,410.5 L1246.3,409.6 L1247.6,408.8 L1248.8,408.0 L1250.1,407.1 L1251.4,406.3 L1252.7,405.5 L1253.9,404.6 L1255.2,403.8 L1256.6,403.5 L1257.9,403.3 L1259.3,403.0 L1260.7,402.8 L1262.0,402.5 L1263.4,402.3 L1264.8,402.0 L1266.1,401.8 L1267.5,401.5 L1268.8,401.5 L1270.0,401.6 L1271.3,401.6 L1272.5,401.6 L1273.8,401.6 L1275.0,401.7 L1276.3,401.7 L1277.5,401.7 L1278.8,401.7 L1280.0,401.8 L1281.3,401.8 L1282.6,402.2 L1283.9,402.6 L1285.2,403.0 L1286.5,403.3 L1287.8,403.7 L1289.1,404.1 L1290.4,404.5 L1291.7,404.9 L1293.0,405.3 L1294.3,405.6 L1295.6,406.0 L1296.9,406.4 L1298.2,406.8 L1299.5,407.8 L1300.9,408.8 L1302.2,409.8 L1303.5,410.8 L1304.8,411.8 L1306.2,412.8 L1307.5,413.8 L1308.8,414.2 L1310.0,414.7 L1311.3,415.1 L1312.6,415.6 L1313.8,416.1 L1315.1,416.5 L1316.4,417.5 L1317.8,418.6 L1319.1,419.6 L1320.4,420.6 L1321.7,421.6 L1323.1,422.7 L1324.4,423.7 L1325.7,424.3 L1327.1,424.9 L1328.4,425.5 L1329.8,426.0 L1331.1,426.6 L1332.4,427.2 L1333.8,427.8 L1335.1,428.4 L1336.3,429.6 L1337.5,430.8 L1338.8,432.0 L1340.0,433.2 L1341.2,433.8 L1342.5,434.4 L1343.7,435.0 L1344.9,435.6 L1346.2,436.2 L1347.4,436.8 L1348.8,437.9 L1350.2,439.1 L1351.6,440.2 L1353.0,441.4 L1354.4,442.6 L1355.8,443.7 L1357.1,444.3 L1358.3,444.9 L1359.6,445.4 L1360.8,446.0 L1362.1,446.6 L1363.4,447.2 L1364.6,447.8 L1365.9,448.3 L1367.1,448.9 L1368.4,449.5 L1369.7,450.6 L1371.1,451.6 L1372.4,452.6 L1373.7,453.7 L1374.9,454.3 L1376.2,454.9 L1377.4,455.5 L1378.6,456.2 L1379.9,456.8 L1381.1,457.4 L1382.4,458.6 L1383.7,459.8 L1385.0,460.9 L1386.3,462.1 L1387.6,462.7 L1388.9,463.3 L1390.2,463.9 L1391.5,464.5 L1392.7,465.0 L1394.0,465.6 L1395.3,466.2 L1396.6,466.8 L1397.9,467.4 L1399.2,468.6 L1400.4,469.7 L1401.7,470.9 L1402.9,472.0 L1404.2,473.2 L1405.4,473.6 L1406.7,474.1 L1407.9,474.5 L1409.1,474.9 L1410.4,475.4 L1411.6,475.8 L1413.0,476.1 L1414.4,476.5 L1415.8,476.9 L1417.2,477.2 L1418.6,477.5 L1420.0,477.9 L1421.4,478.2 L1422.7,478.5 L1424.1,478.8 L1425.4,479.1 L1426.8,479.4 L1428.1,479.7 L1429.5,480.0 L1430.8,480.4 L1432.1,480.8 L1433.4,481.2 L1434.8,481.6 L1436.1,482.0 L1437.4,482.4 L1438.7,482.8 L1440.0,483.2 L1441.3,483.5 L1442.6,483.7 L1443.9,484.0 L1445.2,484.2 L1446.6,484.5 L1447.9,484.8 L1449.2,485.0 L1450.5,485.3 L1451.8,485.7 L1453.0,486.1 L1454.3,486.6 L1455.5,487.0 L1456.8,487.4 L1458.1,487.5 L1459.4,487.6 L1460.6,487.7 L1461.9,487.8 L1463.2,487.9 L1464.4,488.2 L1465.6,488.5 L1466.8,488.8 L1468.1,489.1 L1469.3,489.4 L1470.5,489.7 L1471.8,489.7 L1473.1,489.7 L1474.5,489.7 L1475.8,489.7 L1477.1,489.7 L1478.4,489.7 L1479.7,489.7 L1481.1,489.7 L1482.4,489.7 L1483.7,489.7 L1485.0,489.7 L1486.4,489.7 L1487.7,489.7 L1489.0,489.7 L1490.3,489.7 L1491.6,489.7 L1493.0,489.7 L1494.3,489.7 L1495.6,489.7" stroke="#BF9000" stroke-width="4"/>
<path class="ser" d="M263.0,726.9 L264.3,726.9 L265.6,726.9 L266.9,726.9 L268.2,726.9 L269.5,726.9 L270.8,726.9 L272.1,726.9 L273.4,726.9 L274.6,726.9 L275.9,726.9 L277.2,726.9 L278.5,726.9 L279.8,726.9 L281.1,726.9 L282.4,726.9 L283.7,726.9 L285.0,726.9 L286.3,726.9 L287.6,726.9 L288.9,726.9 L290.2,726.9 L291.5,726.9 L292.8,726.9 L294.1,726.9 L295.4,726.9 L296.6,726.9 L297.9,726.9 L299.2,726.9 L300.5,726.9 L301.8,726.9 L303.1,726.9 L304.4,726.9 L305.7,726.9 L307.0,726.9 L308.3,726.9 L309.6,726.9 L310.9,726.9 L312.2,726.9 L313.5,726.9 L314.8,726.9 L316.1,726.9 L317.4,726.9 L318.6,726.9 L319.9,726.9 L321.2,726.9 L322.5,726.9 L323.8,726.9 L325.1,726.9 L326.4,726.9 L327.7,726.9 L329.0,726.9 L330.3,726.9 L331.6,726.9 L332.9,726.9 L334.2,726.9 L335.5,726.9 L336.8,726.9 L338.1,726.9 L339.4,726.9 L340.6,726.9 L341.9,726.9 L343.2,726.9 L344.5,726.9 L345.8,726.9 L347.1,726.9 L348.4,726.9 L349.7,726.9 L351.0,726.9 L352.3,726.9 L353.6,726.9 L354.9,726.9 L356.2,726.9 L357.5,726.9 L358.8,726.9 L360.1,726.9 L361.4,726.9 L362.6,726.9 L363.9,726.9 L365.2,726.9 L366.5,726.9 L367.8,726.9 L369.1,726.9 L370.4,726.9 L371.7,726.9 L373.0,726.9 L374.3,726.9 L375.6,726.9 L376.9,726.9 L378.2,726.9 L379.5,726.9 L380.8,726.9 L382.1,726.9 L383.4,726.9 L384.6,726.9 L385.9,726.9 L387.2,726.9 L388.5,726.9 L389.8,726.9 L391.1,726.9 L392.4,726.9 L393.7,726.9 L395.0,726.9 L396.2,726.4 L397.5,725.8 L398.7,725.3 L400.0,724.7 L401.2,724.0 L402.6,724.0 L403.9,723.6 L405.2,723.5 L406.6,723.3 L408.1,714.4 L409.6,714.0 L411.2,714.2 L412.7,706.9 L414.2,706.5 L415.8,706.6 L417.6,702.5 L419.0,702.6 L420.5,702.2 L421.9,702.1 L423.2,700.7 L424.6,699.9 L426.0,699.3 L427.3,698.3 L428.6,697.6 L430.0,696.9 L431.4,696.0 L432.7,695.4 L434.0,694.0 L435.4,693.6 L436.7,692.9 L437.9,691.8 L439.2,690.1 L440.5,689.7 L441.7,689.3 L443.0,687.6 L444.3,686.2 L445.6,685.1 L446.9,684.8 L448.1,682.8 L449.4,681.6 L450.7,680.9 L452.1,679.9 L453.4,678.4 L454.8,677.0 L456.1,677.1 L457.4,676.3 L458.8,674.9 L460.1,673.2 L461.5,672.9 L462.8,672.6 L464.1,671.2 L465.4,670.2 L466.8,669.9 L468.1,669.9 L469.4,668.3 L470.7,667.3 L472.0,667.3 L473.3,667.5 L474.6,666.3 L476.0,665.2 L477.3,665.6 L478.6,665.4 L479.9,664.8 L481.2,664.4 L482.5,664.3 L483.8,663.8 L485.2,664.1 L486.5,663.8 L487.8,663.4 L489.1,663.1 L490.5,663.6 L491.8,663.7 L493.1,663.1 L494.5,663.6 L495.9,663.3 L497.2,663.2 L498.5,663.3 L499.9,663.6 L501.3,664.0 L502.6,663.8 L504.0,664.6 L505.4,664.6 L506.7,665.4 L508.1,665.5 L509.5,666.3 L510.8,666.8 L512.2,666.8 L513.5,667.5 L514.8,667.4 L516.1,667.7 L517.3,668.4 L518.6,668.4 L519.9,668.9 L521.2,669.4 L522.5,669.9 L523.8,670.0 L525.0,670.3 L526.3,671.3 L527.6,671.3 L528.9,672.0 L530.1,672.2 L531.4,672.1 L532.7,672.4 L534.0,672.7 L535.2,673.1 L536.5,673.3 L537.8,673.5 L539.1,673.8 L540.4,674.3 L541.6,674.2 L542.9,674.5 L544.2,674.8 L545.5,674.6 L546.8,674.7 L548.0,675.3 L549.3,675.1 L550.6,675.3 L551.9,675.0 L553.2,675.4 L554.4,675.7 L555.7,675.4 L557.0,676.0 L558.3,676.1 L559.6,675.8 L560.9,676.3 L562.1,676.4 L563.4,676.6 L564.7,676.5 L566.0,676.9 L567.3,677.0 L568.6,676.7 L569.9,676.8 L571.1,677.4 L572.4,677.7 L573.7,677.3 L575.0,677.9 L576.2,678.3 L577.5,678.5 L578.8,678.9 L580.0,679.3 L581.3,679.7 L582.6,679.9 L583.9,679.8 L585.1,679.9 L586.4,680.2 L587.7,679.7 L589.0,680.1 L590.3,680.2 L591.6,679.9 L592.9,679.8 L594.1,680.2 L595.4,679.8 L596.7,679.7 L598.0,679.8 L599.3,680.0 L600.5,679.5 L601.8,679.6 L603.1,679.6 L604.4,679.9 L605.7,679.6 L607.0,679.9 L608.2,679.4 L609.5,679.5 L610.8,679.6 L612.1,679.8 L613.4,679.3 L614.8,679.0 L616.1,678.8 L617.5,678.9 L618.8,678.5 L620.1,678.8 L621.5,678.7 L622.8,678.1 L624.1,678.3 L625.4,678.8 L626.6,678.8 L627.9,679.0 L629.2,678.8 L630.5,678.8 L631.8,679.0 L633.1,679.5 L634.4,679.3 L635.6,679.4 L636.9,679.6 L638.2,679.7 L639.6,679.5 L640.9,679.6 L642.3,678.8 L643.7,678.4 L645.0,678.8 L646.4,678.5 L647.8,678.4 L649.1,677.7 L650.5,677.8 L651.8,677.2 L653.2,676.2 L654.5,675.9 L655.9,675.4 L657.2,674.7 L658.5,674.1 L659.9,673.3 L661.2,672.8 L662.5,671.9 L663.8,670.9 L665.1,670.6 L666.4,670.0 L667.7,669.0 L668.9,667.1 L670.2,667.6 L671.5,667.4 L672.8,665.9 L674.1,664.5 L675.4,664.4 L676.7,664.4 L678.0,662.5 L679.2,661.8 L680.5,661.6 L681.8,661.9 L683.0,660.7 L684.3,659.4 L685.6,659.4 L686.9,660.0 L688.2,658.3 L689.4,656.9 L690.7,657.0 L692.0,657.7 L693.3,655.9 L694.6,655.0 L695.8,654.8 L697.1,654.9 L698.4,653.7 L699.7,652.7 L701.0,652.4 L702.2,653.0 L703.5,651.7 L704.8,650.4 L706.1,650.5 L707.4,650.1 L708.7,649.0 L710.0,647.9 L711.2,647.4 L712.5,647.7 L713.8,646.2 L715.1,645.1 L716.4,645.1 L717.6,645.3 L718.9,644.0 L720.2,642.2 L721.5,642.3 L722.8,642.6 L724.0,641.2 L725.3,640.1 L726.6,640.9 L727.9,641.1 L729.1,639.2 L730.4,638.3 L731.7,638.4 L733.0,638.7 L734.2,637.3 L735.5,636.4 L736.8,636.6 L738.1,636.9 L739.4,635.5 L740.7,634.7 L742.1,634.9 L743.4,635.7 L744.7,634.6 L746.0,633.4 L747.3,633.8 L748.5,634.6 L749.8,633.7 L751.1,633.2 L752.4,633.9 L753.6,634.4 L754.9,633.7 L756.2,632.8 L757.4,633.3 L758.7,634.0 L760.0,633.1 L761.2,632.5 L762.5,632.9 L763.8,633.8 L765.1,632.7 L766.3,631.8 L767.6,632.6 L769.0,633.2 L770.3,631.5 L771.7,630.8 L773.1,631.2 L774.4,632.0 L775.8,630.7 L777.2,629.4 L778.5,630.1 L779.9,630.5 L781.2,629.1 L782.4,628.5 L783.7,628.9 L785.0,629.9 L786.2,629.0 L787.5,628.8 L788.8,629.0 L790.0,628.9 L791.3,629.0 L792.6,628.8 L793.8,628.5 L795.1,628.9 L796.3,628.5 L797.6,628.6 L798.9,629.0 L800.1,628.5 L801.4,628.5 L802.6,628.8 L803.8,629.5 L805.1,629.3 L806.3,629.4 L807.5,630.2 L808.8,629.7 L810.0,630.2 L811.3,630.0 L812.6,630.1 L813.8,630.2 L815.1,629.9 L816.4,630.0 L817.6,629.4 L818.9,629.9 L820.1,629.7 L821.4,629.8 L822.7,629.4 L823.9,629.8 L825.2,629.9 L826.5,629.3 L827.7,629.4 L829.0,629.5 L830.4,629.6 L831.7,629.1 L833.1,628.9 L834.5,628.9 L835.8,629.0 L837.2,629.0 L838.6,628.6 L839.9,628.5 L841.3,628.4 L842.6,628.4 L843.9,628.5 L845.2,628.2 L846.5,628.5 L847.8,628.9 L849.1,628.5 L850.4,628.7 L851.7,628.3 L853.0,628.7 L854.3,628.7 L855.6,628.7 L857.0,628.6 L858.3,628.6 L859.6,628.7 L860.9,628.9 L862.2,628.4 L863.5,628.3 L864.8,628.8 L866.1,628.9 L867.4,628.6 L868.7,628.6 L870.0,628.8 L871.3,628.4 L872.6,628.5 L873.9,628.5 L875.2,628.7 L876.5,628.6 L877.8,628.5 L879.1,628.8 L880.4,629.0 L881.7,628.6 L883.0,628.9 L884.3,628.7 L885.7,629.0 L887.0,628.8 L888.3,628.6 L889.6,628.5 L890.9,628.4 L892.2,628.7 L893.5,628.7 L894.8,628.5 L896.1,628.7 L897.4,628.7 L898.7,629.0 L900.0,628.6 L901.3,629.1 L902.6,628.8 L904.0,628.8 L905.3,628.7 L906.6,629.0 L907.9,628.9 L909.2,628.7 L910.6,628.7 L911.9,628.8 L913.2,628.9 L914.5,628.6 L915.8,628.8 L917.1,628.9 L918.5,628.6 L919.8,628.4 L921.1,628.4 L922.4,628.7 L923.7,628.7 L925.1,628.8 L926.4,628.8 L927.7,628.3 L929.2,627.5 L930.7,626.7 L932.0,626.6 L933.3,626.9 L934.6,626.9 L935.8,626.9 L937.1,626.4 L938.4,626.7 L939.7,626.2 L941.0,626.2 L942.2,626.4 L943.5,625.9 L944.8,625.8 L946.1,626.2 L947.4,626.0 L948.7,626.1 L950.0,626.4 L951.2,626.5 L952.5,626.2 L953.8,626.5 L955.1,626.7 L956.4,626.8 L957.6,626.7 L958.9,627.1 L960.2,627.4 L961.5,627.1 L962.8,627.2 L964.1,626.9 L965.3,627.0 L966.6,627.3 L967.9,626.9 L969.2,627.4 L970.5,627.4 L971.7,626.8 L973.0,627.4 L974.3,627.0 L975.6,627.3 L976.9,627.2 L978.1,626.9 L979.4,627.1 L980.7,627.1 L982.0,627.2 L983.2,626.8 L984.5,627.2 L985.8,627.3 L987.1,627.1 L988.4,627.0 L989.6,626.7 L990.9,626.9 L992.2,626.8 L993.5,627.1 L994.8,627.2 L996.1,627.2 L997.3,627.0 L998.6,627.5 L999.9,627.5 L1001.2,627.3 L1002.5,627.9 L1003.8,627.8 L1005.0,627.6 L1006.3,628.2 L1007.6,627.7 L1008.9,628.1 L1010.1,628.5 L1011.4,628.6 L1012.7,628.8 L1014.0,629.1 L1015.2,629.1 L1016.5,629.2 L1017.8,629.3 L1019.1,629.4 L1020.4,630.1 L1021.6,630.3 L1022.9,630.3 L1024.2,630.7 L1025.5,630.7 L1026.8,630.9 L1028.0,631.3 L1029.3,631.9 L1030.6,631.5 L1031.9,632.1 L1033.2,632.2 L1034.5,632.8 L1035.7,632.8 L1037.0,633.0 L1038.3,633.3 L1039.6,633.6 L1040.9,634.0 L1042.2,633.9 L1043.4,634.4 L1044.7,634.1 L1046.0,634.4 L1047.3,634.5 L1048.6,634.7 L1049.8,635.3 L1051.1,635.5 L1052.4,635.3 L1053.7,635.5 L1055.0,635.9 L1056.2,636.4 L1057.5,636.7 L1058.8,636.9 L1060.1,637.1 L1061.3,637.0 L1062.6,637.4 L1063.9,637.6 L1065.2,638.0 L1066.5,638.3 L1067.7,638.3 L1069.0,638.6 L1070.3,639.2 L1071.6,639.0 L1072.8,639.8 L1074.1,640.1 L1075.4,640.4 L1076.7,640.2 L1078.0,640.6 L1079.3,640.9 L1080.6,641.1 L1081.8,641.6 L1083.1,641.7 L1084.4,641.7 L1085.7,642.4 L1087.0,642.4 L1088.2,642.8 L1089.5,643.3 L1090.8,643.1 L1092.1,643.9 L1093.4,644.2 L1094.7,644.4 L1096.0,644.7 L1097.2,645.0 L1098.5,645.2 L1099.8,645.7 L1101.1,645.6 L1102.3,646.1 L1103.6,646.4 L1104.9,646.4 L1106.2,646.7 L1107.4,647.2 L1108.7,647.3 L1110.0,647.0 L1111.3,647.6 L1112.5,647.7 L1113.8,647.5 L1115.1,647.9 L1116.4,648.0 L1117.7,648.1 L1119.0,648.6 L1120.3,649.1 L1121.6,648.9 L1122.9,649.5 L1124.2,649.5 L1125.5,649.3 L1126.8,650.1 L1128.1,650.1 L1129.4,650.5 L1130.7,650.6 L1132.0,650.8 L1133.5,646.9 L1135.0,643.7 L1136.2,640.2 L1137.5,636.6 L1138.6,636.0 L1139.7,635.9 L1140.8,635.5 L1141.9,628.6 L1143.1,622.0 L1144.4,621.2 L1145.7,620.4 L1147.0,619.5 L1148.3,618.4 L1149.6,618.5 L1150.9,619.0 L1152.3,617.2 L1153.6,615.8 L1154.9,616.3 L1156.3,617.4 L1157.6,615.7 L1159.0,614.0 L1160.3,614.7 L1161.7,616.2 L1163.0,614.2 L1164.4,612.5 L1165.7,613.3 L1167.1,614.4 L1168.4,612.6 L1169.8,610.9 L1171.1,611.7 L1172.5,612.9 L1173.8,611.6 L1175.1,609.9 L1176.4,611.0 L1177.8,611.9 L1179.1,610.2 L1180.4,608.9 L1181.8,610.0 L1183.1,610.9 L1184.5,609.2 L1185.9,608.1 L1187.2,609.2 L1188.6,610.6 L1190.0,608.7 L1191.4,607.5 L1192.7,607.3 L1193.9,606.9 L1195.2,604.0 L1196.4,600.8 L1197.7,602.1 L1199.0,603.4 L1200.3,601.6 L1201.6,601.1 L1202.8,601.7 L1204.1,602.8 L1205.4,601.5 L1206.7,600.2 L1208.0,601.6 L1209.4,601.6 L1210.8,598.9 L1212.2,596.6 L1213.5,597.2 L1214.9,597.1 L1216.3,594.9 L1217.6,592.8 L1219.0,593.6 L1220.3,593.8 L1221.6,591.5 L1222.9,589.7 L1224.3,590.6 L1225.6,591.1 L1226.9,588.6 L1228.3,586.7 L1229.6,587.5 L1230.9,588.4 L1232.2,586.0 L1233.6,583.8 L1234.9,584.4 L1236.2,585.1 L1237.5,583.0 L1238.8,581.2 L1240.2,581.7 L1241.5,582.8 L1242.8,580.8 L1244.1,578.8 L1245.5,580.1 L1246.8,580.6 L1248.1,578.8 L1249.4,577.3 L1250.8,578.1 L1252.1,578.3 L1253.4,576.5 L1254.8,575.2 L1256.1,576.1 L1257.3,576.4 L1258.6,574.7 L1259.8,573.9 L1261.1,573.8 L1262.3,574.0 L1263.6,573.1 L1264.8,573.0 L1266.1,572.7 L1267.3,572.4 L1268.6,573.1 L1269.8,573.4 L1271.0,573.7 L1272.3,573.8 L1273.5,574.3 L1274.8,574.2 L1276.0,574.5 L1277.3,574.3 L1278.6,574.5 L1279.9,574.2 L1281.2,573.9 L1282.4,573.6 L1283.7,573.9 L1285.0,573.7 L1286.3,573.6 L1287.6,573.2 L1289.0,573.3 L1290.4,573.2 L1291.8,573.6 L1293.1,573.2 L1294.5,573.5 L1295.9,573.8 L1297.2,574.0 L1298.5,573.9 L1299.7,574.3 L1301.0,575.0 L1302.3,575.2 L1303.6,575.6 L1304.8,575.9 L1306.1,575.9 L1307.4,576.5 L1308.7,576.7 L1309.9,576.7 L1311.2,577.0 L1312.5,577.1 L1313.8,577.6 L1315.1,578.2 L1316.4,577.9 L1317.7,578.5 L1319.1,578.4 L1320.4,578.7 L1321.7,579.3 L1323.0,579.3 L1324.3,579.5 L1325.6,579.8 L1326.9,580.4 L1328.2,580.6 L1329.5,580.5 L1330.8,580.9 L1332.2,581.7 L1333.5,581.4 L1334.8,581.9 L1336.1,582.1 L1337.4,582.6 L1338.7,582.7 L1340.0,583.1 L1341.3,583.2 L1342.6,583.2 L1344.0,583.5 L1345.3,583.7 L1346.6,584.5 L1347.9,584.2 L1349.2,584.4 L1350.5,585.4 L1351.8,585.1 L1353.1,585.8 L1354.4,585.5 L1355.7,586.1 L1357.1,586.2 L1358.4,586.8 L1359.7,587.0 L1361.0,587.2 L1362.3,587.6 L1363.6,587.9 L1364.9,587.7 L1366.1,588.0 L1367.4,588.1 L1368.7,588.1 L1370.0,588.8 L1371.2,588.8 L1372.5,589.2 L1373.8,588.9 L1375.1,589.4 L1376.3,589.5 L1377.6,589.9 L1378.9,589.6 L1380.2,590.0 L1381.5,590.3 L1382.9,590.2 L1384.2,590.8 L1385.5,591.1 L1386.8,591.1 L1388.1,591.4 L1389.5,591.6 L1390.8,591.6 L1392.1,591.9 L1393.4,592.5 L1394.7,592.3 L1396.0,592.5 L1397.4,592.5 L1398.7,592.8 L1400.0,593.0 L1401.3,593.7 L1402.6,593.8 L1403.9,594.1 L1405.2,594.4 L1406.5,594.4 L1407.8,594.8 L1409.0,594.7 L1410.3,594.9 L1411.6,595.5 L1412.9,595.7 L1414.2,595.9 L1415.5,595.8 L1416.8,596.2 L1418.1,596.2 L1419.4,596.8 L1420.7,597.0 L1422.0,596.8 L1423.3,597.4 L1424.5,597.1 L1425.8,597.3 L1427.1,597.9 L1428.4,597.8 L1429.7,598.2 L1431.0,598.5 L1432.3,598.3 L1433.6,599.0 L1434.9,598.9 L1436.2,599.2 L1437.5,599.4 L1438.8,599.9 L1440.0,600.1 L1441.3,600.0 L1442.6,600.1 L1443.9,600.5 L1445.2,600.8 L1446.5,600.7 L1447.8,601.0 L1449.1,601.7 L1450.4,601.8 L1451.7,602.2 L1453.0,602.5 L1454.3,602.6 L1455.6,602.5 L1456.8,602.5 L1458.1,602.9 L1459.4,603.2 L1460.7,603.4 L1462.0,603.7 L1463.3,603.8 L1464.6,604.3 L1465.9,604.1 L1467.2,604.5 L1468.5,605.0 L1469.8,605.2 L1471.1,605.0 L1472.3,605.2 L1473.6,605.8 L1474.9,605.5 L1476.2,605.8 L1477.5,606.3 L1478.8,606.5 L1480.1,606.5 L1481.4,606.6 L1482.7,606.9 L1484.0,607.5 L1485.3,607.5 L1486.6,608.1 L1487.8,608.2 L1489.1,608.5 L1490.4,608.1 L1491.7,608.4 L1493.0,608.5 L1494.3,609.0 L1495.6,609.3" stroke="#843C0C" stroke-width="4"/>
<path class="ser" d="M262.3,682.9 L263.6,682.7 L264.9,682.8 L266.2,682.7 L267.5,682.6 L268.8,682.8 L270.1,683.2 L271.4,683.1 L272.8,683.1 L274.1,682.7 L275.4,682.9 L276.7,682.8 L278.0,682.7 L279.3,682.7 L280.6,682.7 L281.9,683.2 L283.2,683.1 L284.5,683.1 L285.8,683.1 L287.1,682.7 L288.4,682.8 L289.7,683.0 L291.0,683.0 L292.4,683.1 L293.7,683.1 L295.0,682.7 L296.3,683.0 L297.6,683.0 L298.9,682.9 L300.2,682.7 L301.5,682.9 L302.8,682.7 L304.1,683.2 L305.4,683.1 L306.7,682.9 L308.0,682.8 L309.3,683.1 L310.6,682.9 L311.9,683.1 L313.3,683.1 L314.6,682.9 L315.9,682.8 L317.2,683.0 L318.5,682.9 L319.8,682.7 L321.1,682.8 L322.4,683.1 L323.6,683.2 L324.8,683.9 L326.1,684.8 L327.3,685.2 L328.5,686.0 L329.8,686.1 L331.2,686.1 L332.5,686.6 L333.9,686.2 L335.2,686.4 L336.5,686.3 L337.9,686.7 L339.2,686.6 L340.4,688.3 L341.6,690.2 L342.9,691.6 L344.1,693.5 L345.3,695.3 L346.4,695.1 L347.6,695.2 L348.8,695.5 L349.9,696.1 L351.2,696.9 L352.6,697.6 L353.9,698.6 L355.3,699.5 L356.6,699.7 L357.8,699.5 L359.1,699.9 L360.4,700.0 L361.7,700.1 L362.9,700.0 L364.2,700.1 L365.5,699.6 L366.8,699.8 L368.0,700.2 L369.3,700.1 L370.6,699.9 L371.9,700.2 L373.1,700.1 L374.4,700.2 L376.0,700.9 L377.3,700.8 L378.7,701.0 L380.0,700.8 L381.3,700.9 L382.6,701.3 L384.0,700.9 L385.3,700.7 L386.6,700.7 L387.9,700.8 L389.3,701.2 L390.6,700.9 L391.9,700.9 L393.2,700.8 L394.6,701.3 L395.9,701.0 L397.1,700.4 L398.3,699.8 L399.6,699.4 L400.8,699.0 L402.0,698.8 L403.3,698.0 L404.5,697.4 L405.8,697.1 L406.8,692.0 L407.8,687.5 L408.9,686.2 L410.1,685.7 L411.2,685.1 L412.4,680.6 L413.5,676.8 L415.0,675.7 L416.5,674.7 L417.6,672.2 L418.8,669.3 L420.4,668.4 L421.9,667.1 L423.2,666.1 L424.5,664.5 L425.9,662.9 L427.2,661.3 L428.5,659.7 L429.9,657.6 L431.3,656.3 L432.6,655.3 L434.0,653.3 L435.4,650.6 L436.7,649.8 L438.1,649.6 L439.4,647.3 L440.8,645.7 L442.1,644.6 L443.4,644.2 L444.8,642.0 L446.1,640.2 L447.5,639.7 L448.8,639.2 L450.2,637.2 L451.6,635.8 L452.9,635.7 L454.3,635.3 L455.7,633.6 L457.0,631.8 L458.4,631.5 L459.8,631.4 L461.1,629.8 L462.5,628.7 L463.9,628.3 L465.2,628.0 L466.6,626.7 L468.0,625.5 L469.3,625.3 L470.7,624.6 L472.0,623.6 L473.3,623.6 L474.6,623.2 L476.0,622.5 L477.3,621.7 L478.6,621.7 L479.9,620.8 L481.3,621.2 L482.6,620.9 L484.0,620.4 L485.4,620.3 L486.7,620.5 L488.1,620.3 L489.5,620.3 L490.8,620.3 L492.2,619.7 L493.6,619.7 L494.9,620.4 L496.2,619.9 L497.6,620.5 L498.9,620.2 L500.3,620.7 L501.6,620.8 L503.0,620.9 L504.3,620.7 L505.5,620.8 L506.8,620.3 L508.0,620.5 L509.3,620.2 L510.5,620.5 L511.8,620.4 L513.0,620.1 L514.3,620.1 L515.5,619.7 L516.8,619.6 L518.1,619.0 L519.5,618.0 L520.9,617.2 L522.2,616.1 L523.5,614.9 L524.9,614.0 L526.2,613.3 L527.6,612.2 L528.9,610.8 L530.1,610.1 L531.4,608.9 L532.7,607.4 L534.0,606.5 L535.2,605.2 L536.5,604.3 L537.8,602.9 L539.1,601.7 L540.4,600.7 L541.6,599.8 L542.9,598.2 L544.2,597.0 L545.5,596.2 L546.8,595.2 L548.0,593.8 L549.3,592.6 L550.6,591.7 L551.9,590.5 L553.2,588.9 L554.4,588.3 L555.7,586.7 L557.0,585.6 L558.3,584.8 L559.6,584.5 L560.9,584.7 L562.1,584.3 L563.4,584.7 L564.7,584.2 L566.0,584.1 L567.3,584.3 L568.6,584.2 L569.9,584.3 L571.1,584.4 L572.4,584.3 L573.7,583.8 L575.0,584.2 L576.3,584.6 L577.6,584.7 L579.0,585.1 L580.3,585.2 L581.6,585.1 L582.9,585.4 L584.1,585.6 L585.3,585.1 L586.6,585.2 L587.8,585.1 L589.0,584.7 L590.2,585.1 L591.5,585.4 L592.7,585.6 L594.0,586.3 L595.2,586.4 L596.5,586.6 L597.8,586.1 L599.1,586.4 L600.4,586.2 L601.7,586.0 L603.0,585.9 L604.3,585.6 L605.6,585.9 L606.9,585.6 L608.2,585.7 L609.5,585.2 L610.8,585.1 L612.1,585.1 L613.5,585.5 L614.8,585.1 L616.2,585.5 L617.6,585.2 L618.9,585.3 L620.3,585.2 L621.7,585.4 L623.0,585.1 L624.4,585.2 L625.7,585.7 L626.9,585.4 L628.2,585.8 L629.4,585.8 L630.7,585.9 L631.9,585.9 L633.2,586.0 L634.4,586.7 L635.7,586.8 L636.9,586.9 L638.2,587.1 L639.5,587.0 L640.8,586.4 L642.0,586.6 L643.3,586.4 L644.6,586.3 L645.9,586.4 L647.2,585.6 L648.6,585.0 L649.9,583.8 L651.2,583.5 L652.6,582.8 L653.9,582.2 L655.3,581.4 L656.6,580.9 L657.9,579.4 L659.2,578.7 L660.5,577.2 L661.7,576.2 L663.0,575.2 L664.3,573.9 L665.6,572.0 L667.0,570.8 L668.3,570.0 L669.6,568.1 L671.0,566.3 L672.3,565.4 L673.7,564.5 L675.0,562.3 L676.4,560.7 L677.8,559.6 L679.1,559.0 L680.5,556.6 L681.9,554.8 L683.2,554.3 L684.6,553.7 L686.0,551.6 L687.3,549.6 L688.7,549.3 L690.1,548.6 L691.4,546.2 L692.8,544.3 L694.2,544.2 L695.5,543.7 L696.9,541.6 L698.3,539.6 L699.6,538.9 L701.0,538.3 L702.4,536.4 L703.7,534.6 L705.1,534.5 L706.5,534.0 L707.8,532.0 L709.2,529.8 L710.6,529.3 L711.9,528.9 L713.3,527.3 L714.7,525.1 L716.0,524.9 L717.4,524.3 L718.8,522.2 L720.1,520.7 L721.5,519.8 L722.8,519.5 L724.2,517.3 L725.5,515.6 L726.9,515.0 L728.2,514.8 L729.5,512.7 L730.9,510.9 L732.2,511.0 L733.6,510.3 L734.9,508.9 L736.2,507.3 L737.6,507.0 L739.0,506.7 L740.3,505.1 L741.6,503.5 L743.0,503.1 L744.3,503.2 L745.6,502.0 L746.9,500.9 L748.3,500.9 L749.6,501.0 L750.9,499.5 L752.2,498.8 L753.5,498.8 L754.8,498.7 L756.1,497.7 L757.3,497.4 L758.6,496.9 L759.9,496.6 L761.2,496.3 L762.5,496.0 L763.8,495.3 L765.0,494.9 L766.3,494.5 L767.6,493.8 L769.0,494.0 L770.3,493.1 L771.7,493.3 L773.1,492.5 L774.4,492.2 L775.8,492.2 L777.2,491.9 L778.5,491.2 L779.9,491.0 L781.2,490.8 L782.6,490.9 L783.9,490.4 L785.2,490.6 L786.6,490.6 L787.9,490.3 L789.3,490.3 L790.6,490.2 L792.0,489.8 L793.3,490.1 L794.6,490.1 L796.0,490.0 L797.4,489.7 L798.7,490.0 L800.0,490.1 L801.4,489.8 L802.7,490.3 L804.0,490.7 L805.3,490.8 L806.7,490.8 L808.0,491.4 L809.3,491.5 L810.6,492.1 L812.0,491.8 L813.3,491.4 L814.7,491.6 L816.1,491.2 L817.4,490.9 L818.8,491.0 L820.2,490.8 L821.5,490.6 L822.9,490.4 L824.2,490.4 L825.5,490.5 L826.8,490.5 L828.2,490.5 L829.5,490.8 L830.8,490.5 L832.1,490.4 L833.4,490.7 L834.7,490.4 L836.0,490.2 L837.4,490.1 L838.7,489.7 L840.0,489.5 L841.3,489.2 L842.6,489.7 L843.9,489.8 L845.2,489.6 L846.5,489.3 L847.8,489.8 L849.1,489.7 L850.4,489.5 L851.7,489.2 L853.0,489.7 L854.3,489.6 L855.6,489.6 L857.0,489.3 L858.3,489.7 L859.6,489.3 L860.9,489.6 L862.2,489.4 L863.5,489.5 L864.8,489.8 L866.1,489.7 L867.4,489.8 L868.7,489.5 L870.0,489.5 L871.3,489.7 L872.6,489.3 L873.9,489.6 L875.2,489.9 L876.5,489.8 L877.8,489.8 L879.1,489.5 L880.4,489.7 L881.7,489.8 L883.0,489.8 L884.3,489.6 L885.7,489.5 L887.0,489.4 L888.3,489.9 L889.6,489.9 L890.9,489.5 L892.2,489.8 L893.5,489.6 L894.8,489.8 L896.1,489.9 L897.4,489.6 L898.7,489.8 L900.0,489.6 L901.3,489.7 L902.6,489.4 L903.8,489.5 L905.1,489.5 L906.4,489.9 L907.7,489.4 L908.9,489.8 L910.2,489.4 L911.5,489.9 L912.8,489.4 L914.1,489.3 L915.3,489.4 L916.6,489.8 L917.9,489.6 L919.2,489.8 L920.4,489.5 L921.7,489.3 L923.0,489.4 L924.3,489.4 L925.6,489.6 L926.9,489.0 L928.1,488.9 L929.4,489.2 L930.7,488.6 L932.0,489.0 L933.3,488.5 L934.5,488.6 L935.8,488.5 L937.1,488.6 L938.4,488.0 L939.7,488.3 L941.0,487.8 L942.2,488.0 L943.5,487.5 L944.8,487.9 L946.1,487.4 L947.4,487.5 L948.7,487.4 L949.9,487.7 L951.2,487.7 L952.5,488.2 L953.8,488.0 L955.0,487.9 L956.3,488.4 L957.6,488.0 L958.9,488.0 L960.2,488.5 L961.4,488.6 L962.7,488.5 L964.0,488.7 L965.3,488.3 L966.5,488.8 L967.8,488.8 L969.1,488.8 L970.4,488.9 L971.7,488.5 L973.0,488.6 L974.3,488.6 L975.6,488.9 L976.9,489.0 L978.2,489.0 L979.5,488.9 L980.8,489.2 L982.1,489.3 L983.4,489.3 L984.7,488.9 L986.0,489.0 L987.4,489.3 L988.7,489.6 L990.1,490.0 L991.5,490.0 L992.8,490.6 L994.2,490.6 L995.6,490.9 L996.9,491.4 L998.3,491.8 L999.7,491.6 L1001.0,492.1 L1002.4,492.8 L1003.8,492.7 L1005.1,492.9 L1006.5,493.3 L1007.9,494.0 L1009.2,494.3 L1010.6,494.8 L1012.0,494.9 L1013.3,495.1 L1014.7,495.7 L1016.1,496.4 L1017.4,496.6 L1018.8,496.9 L1020.2,497.5 L1021.5,497.9 L1022.9,498.3 L1024.2,498.9 L1025.5,499.2 L1026.8,499.6 L1028.0,500.6 L1029.3,501.1 L1030.6,501.4 L1031.9,501.7 L1033.2,502.3 L1034.5,503.0 L1035.7,503.7 L1037.0,504.0 L1038.3,504.8 L1039.6,505.1 L1040.9,505.4 L1042.2,506.2 L1043.4,506.7 L1044.7,507.3 L1046.0,507.9 L1047.3,508.0 L1048.6,508.8 L1049.8,509.6 L1051.1,509.7 L1052.4,510.2 L1053.7,510.8 L1055.0,511.4 L1056.2,511.9 L1057.5,512.3 L1058.8,513.0 L1060.1,513.2 L1061.3,513.8 L1062.6,514.5 L1063.9,514.9 L1065.2,515.6 L1066.5,516.1 L1067.7,516.2 L1069.0,516.7 L1070.3,517.3 L1071.6,517.9 L1072.8,518.3 L1074.1,519.1 L1075.4,519.2 L1076.7,519.9 L1078.0,520.2 L1079.3,521.2 L1080.6,521.5 L1081.8,522.3 L1083.1,522.3 L1084.4,523.1 L1085.7,523.3 L1087.0,523.2 L1088.3,523.8 L1089.7,524.1 L1091.0,523.8 L1092.3,524.6 L1093.6,524.7 L1094.9,524.7 L1096.2,524.8 L1097.4,524.8 L1098.7,524.8 L1100.0,525.2 L1101.3,525.5 L1102.5,524.7 L1103.6,524.5 L1104.8,524.0 L1105.9,523.8 L1107.2,523.1 L1108.5,522.2 L1109.8,521.0 L1111.2,520.2 L1112.5,519.0 L1113.8,518.5 L1115.1,517.8 L1116.4,517.2 L1117.7,516.1 L1118.9,515.7 L1120.2,514.8 L1121.5,514.4 L1122.8,514.0 L1124.1,512.9 L1125.4,512.4 L1126.7,511.7 L1127.9,510.9 L1129.2,509.7 L1130.5,509.4 L1131.5,502.3 L1132.5,495.3 L1133.5,474.8 L1134.6,454.9 L1135.8,435.9 L1136.9,416.8 L1138.2,415.2 L1139.4,413.5 L1140.7,412.3 L1141.8,402.3 L1143.0,392.3 L1144.3,391.2 L1145.6,390.2 L1146.9,389.3 L1148.4,382.0 L1149.6,381.0 L1150.8,379.6 L1152.0,378.0 L1153.3,377.6 L1154.5,377.1 L1155.7,374.8 L1156.9,372.5 L1158.2,372.8 L1159.5,372.8 L1160.8,370.7 L1162.0,368.4 L1163.3,369.0 L1164.6,368.8 L1165.8,366.0 L1167.0,363.1 L1168.3,362.4 L1169.5,361.9 L1170.7,358.8 L1172.2,355.8 L1173.7,354.5 L1175.2,353.5 L1176.4,350.5 L1177.7,348.3 L1178.9,347.7 L1180.2,347.7 L1181.4,345.0 L1182.7,342.8 L1183.9,342.7 L1185.2,342.9 L1186.4,340.1 L1187.9,338.4 L1189.3,338.2 L1190.8,338.4 L1192.2,334.8 L1193.6,331.2 L1195.0,329.9 L1196.2,329.4 L1197.5,326.2 L1198.7,323.4 L1199.9,322.8 L1201.2,322.9 L1202.5,320.6 L1203.8,318.4 L1205.2,318.4 L1206.5,318.8 L1207.8,316.0 L1209.1,314.3 L1210.3,313.2 L1211.6,312.1 L1212.8,308.8 L1214.1,305.3 L1215.3,304.3 L1216.5,303.9 L1217.7,299.8 L1219.0,296.6 L1220.2,296.1 L1221.4,294.7 L1222.7,291.9 L1224.0,289.1 L1225.3,288.3 L1226.7,287.8 L1228.0,285.1 L1229.3,282.0 L1230.6,281.2 L1231.9,280.9 L1233.3,277.9 L1234.7,275.0 L1236.0,274.3 L1237.3,274.2 L1238.7,270.7 L1240.1,267.9 L1241.4,267.3 L1242.7,267.7 L1244.0,264.6 L1245.3,262.3 L1246.7,261.9 L1248.0,262.0 L1249.3,258.8 L1250.6,256.4 L1251.9,256.6 L1253.2,256.3 L1254.4,253.9 L1255.7,252.0 L1257.0,251.9 L1258.3,251.5 L1259.6,250.5 L1260.9,249.7 L1262.2,249.6 L1263.6,249.0 L1264.9,248.5 L1266.2,248.2 L1267.5,247.7 L1268.9,247.7 L1270.2,247.9 L1271.6,247.8 L1273.0,248.1 L1274.3,248.3 L1275.7,248.4 L1277.1,248.5 L1278.4,248.2 L1279.8,248.5 L1281.1,249.0 L1282.4,249.0 L1283.7,249.6 L1285.1,249.5 L1286.4,250.3 L1287.7,250.6 L1289.0,251.0 L1290.3,251.4 L1291.6,251.9 L1292.8,252.2 L1294.1,252.9 L1295.4,253.5 L1296.7,253.8 L1298.0,255.0 L1299.4,256.4 L1300.8,257.1 L1302.1,258.3 L1303.5,259.3 L1304.8,260.9 L1306.2,261.9 L1307.5,263.1 L1308.8,263.7 L1310.1,264.6 L1311.4,265.6 L1312.8,266.7 L1314.1,267.3 L1315.4,268.2 L1316.7,269.1 L1318.0,270.7 L1319.3,271.7 L1320.7,273.6 L1322.0,274.5 L1323.3,276.3 L1324.6,277.8 L1325.8,278.2 L1327.0,279.1 L1328.3,279.4 L1329.5,280.0 L1330.7,280.8 L1332.0,282.0 L1333.3,283.4 L1334.6,284.5 L1336.0,285.8 L1337.3,287.2 L1338.6,288.3 L1339.9,289.5 L1341.2,290.5 L1342.6,291.5 L1343.9,292.3 L1345.2,293.1 L1346.6,294.1 L1347.9,295.2 L1349.3,296.2 L1350.6,297.2 L1351.8,298.3 L1352.9,299.4 L1354.0,300.3 L1355.2,301.7 L1356.5,302.4 L1357.9,303.6 L1359.2,304.3 L1360.6,305.1 L1361.9,306.6 L1363.2,307.5 L1364.6,308.1 L1365.9,308.9 L1367.2,310.3 L1368.5,311.2 L1369.8,311.7 L1371.0,313.0 L1372.3,313.9 L1373.6,314.6 L1375.0,315.5 L1376.3,316.4 L1377.7,317.4 L1379.0,318.7 L1380.4,319.8 L1381.7,320.8 L1383.1,321.6 L1384.4,323.0 L1385.8,323.5 L1387.1,324.7 L1388.5,325.3 L1389.8,326.1 L1391.2,327.1 L1392.5,328.3 L1393.9,328.8 L1395.2,329.5 L1396.6,330.7 L1397.8,332.3 L1398.9,334.1 L1400.0,335.8 L1401.2,337.6 L1402.5,338.5 L1403.7,338.9 L1405.0,339.9 L1406.3,340.3 L1407.5,341.2 L1408.8,341.9 L1410.2,342.9 L1411.5,343.2 L1412.9,344.0 L1414.3,344.7 L1415.6,345.0 L1417.0,345.5 L1418.4,346.1 L1419.7,346.9 L1421.1,347.4 L1422.4,347.8 L1423.7,348.8 L1425.0,349.2 L1426.3,349.9 L1427.6,350.4 L1428.9,350.9 L1430.2,351.5 L1431.6,352.0 L1432.9,352.5 L1434.3,353.3 L1435.7,354.0 L1437.0,354.1 L1438.4,354.7 L1439.8,355.3 L1441.1,356.1 L1442.5,356.9 L1443.8,357.2 L1445.2,357.9 L1446.5,358.0 L1447.8,358.6 L1449.2,358.9 L1450.5,359.6 L1451.9,359.9 L1453.2,360.2 L1454.5,361.0 L1455.9,361.7 L1457.2,362.5 L1458.6,362.7 L1459.9,363.6 L1461.2,364.1 L1462.6,364.3 L1463.9,365.3 L1465.3,365.7 L1466.6,366.0 L1468.0,366.1 L1469.4,366.3 L1470.7,366.7 L1472.1,367.1 L1473.5,367.3 L1474.8,367.4 L1476.2,368.1 L1477.6,368.3 L1478.9,368.4 L1480.3,368.9 L1481.6,369.1 L1483.0,369.7 L1484.3,369.9 L1485.7,370.5 L1487.0,370.7 L1488.4,371.4 L1489.6,371.6 L1490.8,371.5 L1492.0,372.2 L1493.2,372.3 L1494.4,372.4 L1495.6,372.8" stroke="#548235" stroke-width="4"/>
<path class="ser" d="M283.0,727.4 L284.3,727.4 L285.6,727.4 L286.9,727.4 L288.2,727.4 L289.5,727.4 L290.8,727.4 L292.0,727.4 L293.3,727.4 L294.6,727.4 L295.9,727.4 L297.2,727.4 L298.5,727.4 L299.8,727.4 L301.1,727.4 L302.4,727.4 L303.7,727.4 L305.0,727.4 L306.2,727.4 L307.5,727.4 L308.8,727.4 L310.1,727.4 L311.4,727.4 L312.7,727.4 L314.0,727.4 L315.3,727.4 L316.6,727.4 L317.9,727.4 L319.2,727.4 L320.5,727.4 L321.8,727.4 L323.0,727.4 L324.3,727.4 L325.6,727.4 L326.9,727.4 L328.2,727.4 L329.5,727.4 L330.8,727.4 L332.1,727.4 L333.4,727.4 L334.7,727.4 L336.0,727.4 L337.2,727.4 L338.5,727.4 L339.8,727.4 L341.1,727.4 L342.4,727.4 L343.7,727.4 L345.0,727.4 L346.3,727.4 L347.6,727.4 L348.9,727.4 L350.2,727.4 L351.5,727.4 L352.8,727.4 L354.0,727.4 L355.3,727.4 L356.6,727.4 L357.9,727.4 L359.2,727.4 L360.5,727.4 L361.8,727.4 L363.1,727.4 L364.4,727.4 L365.7,727.4 L367.0,727.4 L368.2,727.4 L369.5,727.4 L370.8,727.4 L372.1,727.4 L373.4,727.4 L374.7,727.4 L376.0,727.4 L377.0,726.3 L378.0,725.3 L379.3,725.3 L380.7,725.3 L382.0,725.3 L383.3,725.3 L384.7,725.3 L386.0,725.3 L387.3,725.3 L388.7,725.3 L390.0,725.3 L391.0,726.3 L392.0,727.4 L393.3,727.4 L394.6,727.4 L395.9,727.4 L397.2,727.4 L398.5,727.4 L399.8,727.4 L401.1,727.4 L402.4,727.4 L403.7,727.4 L405.0,727.4 L406.3,727.4 L407.6,727.4 L408.9,727.4 L410.2,727.4 L411.5,727.4 L412.8,727.4 L414.1,727.4 L415.4,727.4 L416.7,727.4 L418.0,727.4 L419.2,727.4 L420.5,727.4 L421.8,727.4 L423.1,727.4 L424.4,727.4 L425.7,727.4 L427.0,727.4 L428.3,727.4 L429.6,727.4 L430.9,727.4 L432.2,727.4 L433.5,727.4 L434.8,727.4 L436.1,727.4 L437.4,727.4 L438.7,727.4 L440.0,727.4 L441.3,727.4 L442.6,727.4 L443.9,727.4 L445.2,727.4 L446.5,727.4 L447.8,727.4 L449.1,727.4 L450.4,727.4 L451.7,727.4 L453.0,727.4 L454.3,727.4 L455.6,727.4 L456.9,727.4 L458.2,727.4 L459.5,727.4 L460.8,727.4 L462.1,727.4 L463.4,727.4 L464.7,727.4 L466.0,727.4 L467.3,727.4 L468.6,727.4 L469.9,727.4 L471.1,727.4 L472.4,727.4 L473.7,727.4 L475.0,727.4 L476.3,727.4 L477.6,727.4 L478.9,727.4 L480.2,727.4 L481.5,727.4 L482.8,727.4 L484.1,727.4 L485.4,727.4 L486.7,727.4 L488.0,727.4 L489.3,727.4 L490.6,727.4 L491.9,727.4 L493.2,727.4 L494.5,727.4 L495.8,727.4 L497.1,727.4 L498.4,727.4 L499.7,727.4 L501.0,727.4 L502.3,727.4 L503.6,727.4 L504.9,727.4 L506.2,727.4 L507.5,727.4 L508.8,727.4 L510.1,727.4 L511.4,727.4 L512.7,727.4 L514.0,727.4 L515.3,727.4 L516.6,727.4 L517.9,727.4 L519.2,727.4 L520.5,727.4 L521.8,727.4 L523.0,727.4 L524.3,727.4 L525.6,727.4 L526.9,727.4 L528.2,727.4 L529.5,727.4 L530.8,727.4 L532.1,727.4 L533.4,727.4 L534.7,727.4 L536.0,727.4 L537.3,727.4 L538.6,727.4 L539.9,727.4 L541.2,727.4 L542.5,727.4 L543.8,727.4 L545.1,727.4 L546.4,727.4 L547.7,727.4 L549.0,727.4 L550.3,727.4 L551.6,727.4 L552.9,727.4 L554.2,727.4 L555.5,727.4 L556.8,727.4 L558.1,727.4 L559.4,727.4 L560.7,727.4 L562.0,727.4 L563.3,727.4 L564.6,727.4 L565.9,727.4 L567.2,727.4 L568.5,727.4 L569.8,727.4 L571.1,727.4 L572.4,727.4 L573.7,727.4 L575.0,727.4 L576.2,727.4 L577.5,727.4 L578.8,727.4 L580.1,727.4 L581.4,727.4 L582.7,727.4 L584.0,727.4 L585.3,727.4 L586.6,727.4 L587.9,727.4 L589.2,727.4 L590.5,727.4 L591.8,727.4 L593.1,727.4 L594.4,727.4 L595.7,727.4 L597.0,727.4 L598.3,727.4 L599.6,727.4 L600.9,727.4 L602.2,727.4 L603.5,727.4 L604.8,727.4 L606.1,727.4 L607.4,727.4 L608.7,727.4 L610.0,727.4 L611.3,727.4 L612.6,727.4 L613.9,727.4 L615.2,727.4 L616.5,727.4 L617.8,727.4 L619.1,727.4 L620.4,727.4 L621.7,727.4 L623.0,727.4 L624.3,727.4 L625.6,727.4 L626.9,727.4 L628.1,727.4 L629.4,727.4 L630.7,727.4 L632.0,727.4 L633.3,727.4 L634.6,727.4 L635.9,727.4 L637.2,727.4 L638.5,727.4 L639.8,727.4 L641.1,727.4 L642.4,727.4 L643.7,727.4 L645.0,727.4 L646.3,727.4 L647.6,727.4 L648.9,727.4 L650.2,727.4 L651.5,727.4 L652.8,727.4 L654.1,727.4 L655.4,727.4 L656.7,727.4 L658.0,727.4 L659.3,727.4 L660.6,727.4 L661.9,727.4 L663.2,727.4 L664.5,727.4 L665.8,727.4 L667.1,727.4 L668.4,727.4 L669.7,727.4 L671.0,727.4 L672.3,727.4 L673.6,727.4 L674.9,727.4 L676.2,727.4 L677.5,727.4 L678.8,727.4 L680.0,727.4 L681.3,727.4 L682.6,727.4 L683.9,727.4 L685.2,727.4 L686.5,727.4 L687.8,727.4 L689.1,727.4 L690.4,727.4 L691.7,727.4 L693.0,727.4 L694.3,727.4 L695.6,727.4 L696.9,727.4 L698.2,727.4 L699.5,727.4 L700.8,727.4 L702.1,727.4 L703.4,727.4 L704.7,727.4 L706.0,727.4 L707.5,726.5 L709.0,725.6 L710.2,725.9 L711.4,726.2 L712.6,726.6 L713.8,726.9 L715.0,727.2 L716.5,726.4 L718.0,725.5 L719.2,724.0 L720.3,722.5 L721.5,721.0 L722.9,720.3 L724.2,720.7 L725.6,721.7 L727.0,722.0 L728.3,721.1 L729.7,722.0 L731.1,722.0 L732.4,722.0 L733.8,722.0 L735.0,721.9 L736.2,720.9 L737.5,721.2 L738.7,720.1 L739.9,720.2 L741.2,719.9 L742.5,719.0 L743.8,717.5 L745.0,717.9 L746.3,716.6 L747.6,715.7 L748.8,716.3 L750.0,718.8 L751.3,719.8 L752.5,722.1 L753.7,723.2 L755.2,720.8 L756.8,717.4 L757.9,718.6 L759.1,718.8 L760.2,720.3 L761.4,721.4 L762.8,720.9 L764.1,719.4 L765.5,719.6 L766.8,719.0 L768.1,718.0 L769.5,717.8 L770.9,717.1 L772.2,715.6 L773.5,716.4 L774.8,716.5 L776.0,718.5 L777.3,719.5 L778.6,719.4 L779.9,720.5 L781.4,719.8 L782.9,719.1 L784.0,719.4 L785.2,721.9 L786.4,722.8 L787.5,724.3 L788.7,722.8 L790.0,722.1 L791.2,721.3 L792.5,720.0 L793.7,719.1 L795.0,718.1 L796.2,718.5 L797.5,719.2 L798.7,719.8 L800.0,719.2 L801.2,720.3 L802.5,720.4 L803.7,719.5 L805.0,720.5 L806.2,720.3 L807.5,720.2 L808.8,720.1 L810.0,720.1 L811.3,719.6 L812.5,719.3 L813.8,718.8 L815.0,719.2 L816.3,718.8 L817.5,718.9 L818.8,718.6 L820.0,717.7 L821.3,718.6 L822.6,717.6 L824.0,718.9 L825.4,719.2 L826.7,720.0 L828.0,720.1 L829.4,721.9 L830.8,721.7 L832.1,721.7 L833.5,722.3 L834.8,720.9 L836.2,721.3 L837.6,720.5 L838.9,720.5 L840.3,720.8 L841.7,720.1 L843.0,719.0 L844.4,719.3 L845.6,719.4 L846.8,719.4 L848.1,719.4 L849.3,720.7 L850.5,721.1 L851.6,719.9 L852.8,718.0 L854.0,715.4 L855.1,713.0 L856.3,716.0 L857.6,716.4 L858.8,718.6 L860.1,721.4 L861.3,723.5 L862.5,722.4 L863.8,723.0 L865.0,723.1 L866.3,721.9 L867.5,721.7 L868.8,721.1 L870.0,720.9 L871.3,721.9 L872.6,722.1 L873.8,724.4 L875.1,725.5 L876.4,724.8 L877.7,723.9 L879.0,725.0 L880.4,723.9 L881.7,723.6 L883.0,723.2 L884.3,724.2 L885.6,722.0 L886.9,720.3 L888.2,719.4 L889.5,720.3 L890.7,722.7 L892.0,723.9 L893.3,723.2 L894.6,723.7 L895.9,723.4 L897.1,721.6 L898.4,722.1 L899.7,721.3 L901.0,720.6 L902.3,718.4 L903.8,712.8 L905.3,708.3 L906.6,711.9 L907.9,717.2 L909.2,719.8 L910.5,720.9 L911.8,721.2 L913.1,722.0 L914.4,719.4 L915.6,717.1 L916.9,713.4 L918.2,712.5 L919.4,709.6 L920.7,708.0 L922.0,711.7 L923.3,715.7 L924.6,720.3 L925.9,720.9 L927.1,721.5 L928.4,722.9 L929.7,720.6 L931.0,717.6 L932.3,716.0 L933.4,715.7 L934.6,716.0 L935.8,715.4 L936.9,714.2 L938.2,715.8 L939.4,719.7 L940.7,721.6 L942.1,720.7 L943.4,719.8 L944.8,718.5 L946.1,717.1 L947.2,717.7 L948.4,716.5 L949.6,716.4 L950.7,717.0 L951.8,713.8 L953.0,711.9 L954.1,710.8 L955.3,712.5 L956.4,716.9 L957.6,719.8 L958.9,720.3 L960.2,721.1 L961.5,723.0 L962.6,722.5 L963.8,720.3 L965.0,720.1 L966.1,719.5 L967.5,717.9 L969.0,716.0 L970.4,714.2 L971.5,716.8 L972.7,719.0 L973.8,719.4 L975.1,721.1 L976.5,723.5 L977.8,724.8 L979.1,725.9 L980.2,723.4 L981.4,723.3 L982.6,722.4 L983.7,721.1 L985.0,719.0 L986.3,716.3 L987.6,716.2 L989.2,719.3 L990.7,724.3 L992.0,725.0 L993.2,724.8 L994.5,724.0 L995.8,724.9 L997.0,725.1 L998.3,725.3 L999.7,725.7 L1001.1,726.1 L1002.6,726.6 L1004.0,727.0 L1005.3,726.7 L1006.7,726.4 L1008.0,726.1 L1009.3,725.8 L1010.7,725.5 L1012.0,725.2 L1013.3,725.9 L1014.7,726.5 L1016.0,727.2 L1017.3,727.2 L1018.7,727.2 L1020.0,727.2 L1021.3,727.2 L1022.7,727.3 L1024.0,727.3 L1025.3,727.3 L1026.7,727.3 L1028.0,727.3 L1029.3,727.3 L1030.7,727.3 L1032.0,727.3 L1033.3,727.3 L1034.7,727.4 L1036.0,727.4 L1037.3,727.4 L1038.7,727.4 L1040.0,727.4 L1041.2,727.0 L1042.5,726.6 L1043.8,726.2 L1045.0,725.8 L1046.2,726.2 L1047.5,726.6 L1048.8,727.0 L1050.0,727.4 L1051.3,727.4 L1052.6,727.4 L1053.9,727.4 L1055.2,727.4 L1056.5,727.4 L1057.7,727.4 L1059.0,727.4 L1060.3,727.4 L1061.6,727.4 L1062.9,727.4 L1064.2,727.4 L1065.5,727.4 L1066.8,727.4 L1068.1,727.4 L1069.4,727.4 L1070.6,727.4 L1071.9,727.4 L1073.2,727.4 L1074.5,727.4 L1075.8,727.4 L1077.1,727.4 L1078.4,727.4 L1079.7,727.4 L1081.0,727.4 L1082.3,727.4 L1083.6,727.4 L1084.8,727.4 L1086.1,727.4 L1087.4,727.4 L1088.7,727.4 L1090.0,727.4 L1091.3,727.4 L1092.6,727.4 L1093.9,727.4 L1095.2,727.4 L1096.5,727.4 L1097.7,727.4 L1099.0,727.4 L1100.3,727.4 L1101.6,727.4 L1102.9,727.4 L1104.2,727.4 L1105.5,727.4 L1106.8,727.4 L1108.1,727.4 L1109.4,727.4 L1110.7,727.4 L1111.9,727.4 L1113.2,727.4 L1114.5,727.4 L1115.8,727.4 L1117.1,727.4 L1118.4,727.4 L1119.7,727.4 L1121.0,727.4 L1122.3,727.4 L1123.6,727.4 L1124.8,727.4 L1126.1,727.4 L1127.4,727.4 L1128.7,727.4 L1130.0,727.4 L1131.3,727.4 L1132.8,720.0 L1134.3,714.0 L1135.8,720.0 L1137.0,723.7 L1138.2,727.4 L1139.5,727.4 L1140.8,727.4 L1142.1,727.4 L1143.4,727.4 L1144.7,727.4 L1146.0,727.3 L1147.3,727.3 L1148.5,727.3 L1149.8,727.3 L1151.1,727.3 L1152.4,727.3 L1153.7,727.3 L1155.0,727.3 L1156.3,727.3 L1157.6,727.3 L1158.9,727.3 L1160.2,727.2 L1161.5,727.2 L1162.8,727.2 L1164.1,727.2 L1165.4,727.2 L1166.7,727.2 L1167.9,727.2 L1169.2,727.2 L1170.5,727.2 L1171.8,727.2 L1173.1,727.2 L1174.4,727.2 L1175.7,727.1 L1177.0,727.1 L1178.3,727.1 L1179.6,727.1 L1180.9,727.1 L1182.2,727.1 L1183.5,727.1 L1184.8,727.1 L1186.1,727.1 L1187.3,727.1 L1188.6,727.1 L1189.9,727.0 L1191.2,727.0 L1192.5,727.0 L1193.8,727.0 L1195.1,727.0 L1196.4,727.0 L1197.7,726.5 L1199.0,725.9 L1200.4,725.4 L1201.7,724.8 L1203.0,724.3 L1204.2,722.2 L1205.5,720.1 L1206.8,718.1 L1208.0,716.0 L1209.1,711.0 L1210.2,706.0 L1211.3,701.0 L1212.4,698.6 L1213.5,696.1 L1214.6,693.5 L1216.3,680.6 L1217.7,679.0 L1219.0,678.3 L1220.4,675.1 L1221.6,673.6 L1222.8,672.3 L1223.9,669.1 L1225.1,667.2 L1226.3,662.8 L1227.4,664.2 L1228.5,664.2 L1229.6,665.5 L1231.0,659.8 L1232.3,652.6 L1233.7,647.3 L1235.0,645.8 L1236.2,645.6 L1237.6,646.9 L1239.0,647.1 L1240.4,650.3 L1241.8,645.4 L1243.1,643.3 L1244.5,638.8 L1245.7,635.2 L1247.0,633.9 L1248.2,629.0 L1249.7,634.0 L1251.1,640.9 L1252.3,639.1 L1253.6,636.2 L1254.8,636.4 L1256.1,633.9 L1257.5,633.7 L1258.9,632.0 L1260.3,633.3 L1261.5,637.2 L1262.8,642.4 L1264.0,636.0 L1265.2,628.4 L1266.4,627.7 L1267.6,626.4 L1268.7,625.5 L1269.9,624.5 L1271.1,624.2 L1272.3,622.5 L1273.5,618.6 L1274.8,617.7 L1276.0,614.4 L1277.1,610.2 L1278.3,607.2 L1279.4,602.3 L1280.7,602.2 L1282.0,602.9 L1283.4,603.8 L1284.7,602.6 L1286.0,605.1 L1287.4,602.4 L1288.8,603.8 L1290.2,603.6 L1291.5,601.2 L1292.9,602.6 L1294.3,601.2 L1295.7,599.8 L1297.0,596.5 L1298.4,594.6 L1299.8,596.6 L1301.2,600.1 L1302.6,600.0 L1303.7,601.6 L1304.8,602.3 L1305.9,602.6 L1307.3,603.9 L1308.7,606.7 L1310.1,609.9 L1311.3,607.8 L1312.5,603.5 L1313.8,602.4 L1315.0,599.9 L1316.2,597.4 L1317.3,599.3 L1318.5,605.5 L1319.7,607.4 L1320.8,611.9 L1322.0,611.9 L1323.3,612.1 L1324.5,610.0 L1325.8,610.8 L1327.2,607.6 L1328.7,604.8 L1330.1,602.5 L1331.6,599.9 L1332.8,599.1 L1334.1,598.6 L1335.3,599.3 L1336.6,599.4 L1338.0,598.0 L1339.5,598.4 L1341.0,601.2 L1342.4,600.8 L1343.7,603.6 L1344.9,606.3 L1346.2,610.2 L1347.4,613.9 L1348.8,618.0 L1350.1,622.8 L1351.5,626.9 L1352.8,628.5 L1354.2,625.9 L1355.5,626.5 L1356.9,626.8 L1358.2,624.6 L1359.6,632.4 L1360.9,639.3 L1362.3,644.9 L1363.4,646.4 L1364.5,645.9 L1365.6,647.8 L1366.8,655.0 L1368.1,664.5 L1369.2,664.0 L1370.4,665.3 L1371.5,667.4 L1373.0,670.4 L1374.4,674.0 L1375.8,676.1 L1377.3,679.5 L1378.5,680.9 L1379.8,681.1 L1381.0,681.5 L1382.2,682.6 L1383.6,685.3 L1385.0,689.2 L1386.4,694.0 L1387.7,695.1 L1388.9,695.6 L1390.2,696.5 L1391.4,697.3 L1392.7,699.0 L1393.9,700.2 L1395.5,700.8 L1397.0,701.4 L1398.3,701.4 L1399.6,701.4 L1400.9,701.4 L1402.2,701.4 L1403.5,701.4 L1404.8,701.4 L1406.1,701.4 L1407.4,701.4 L1408.7,701.4 L1410.0,701.4 L1411.3,701.4 L1412.6,701.4 L1413.9,701.4 L1415.2,701.4 L1416.5,701.4 L1417.8,701.4 L1419.1,701.4 L1420.4,701.4 L1421.7,701.4 L1422.9,701.4 L1424.2,701.4 L1425.5,701.4 L1426.8,701.4 L1428.1,701.4 L1429.4,701.4 L1430.7,701.4 L1432.0,701.4 L1433.3,701.4 L1434.6,701.4 L1435.9,701.4 L1437.2,701.4 L1438.5,701.4 L1439.8,701.4 L1441.1,701.4 L1442.4,701.4 L1443.7,701.4 L1445.0,701.4 L1446.3,701.4 L1447.6,701.4 L1448.9,701.4 L1450.2,701.4 L1451.5,701.4 L1452.8,701.4 L1454.1,701.4 L1455.4,701.4 L1456.7,701.4 L1458.0,701.4 L1459.3,701.4 L1460.6,701.4 L1461.9,701.4 L1463.2,701.4 L1464.5,701.4 L1465.8,701.4 L1467.1,701.4 L1468.4,701.4 L1469.7,701.4 L1470.9,701.4 L1472.2,701.4 L1473.5,701.4 L1474.8,701.4 L1476.1,701.4 L1477.4,701.4 L1478.7,701.4 L1480.0,701.4 L1481.3,701.4 L1482.6,701.4 L1483.9,701.4 L1485.2,701.4 L1486.5,701.4 L1487.8,701.4 L1489.1,701.4 L1490.4,701.4 L1491.7,701.4 L1493.0,701.4 L1494.3,701.4 L1495.6,701.4" stroke="#8FAADC" stroke-width="5"/>
</g>
<path class="ld" d="M1163.2,161.6 H1171.1 L1269.4,221.1"/>
<path class="ld" d="M1060.5,251.1 L1271.9,248.2"/>
<path class="ld" d="M1257.1,381.3 L1276.8,401.5"/>
<path class="ld" d="M1066.1,451.9 L1128.1,492.4"/>
<path class="ld" d="M1061.7,532.1 H1069.1 L1131.3,508.3"/>
<path class="ld" d="M1109.6,574.7 H1118.2 L1131.3,585"/>
<path class="ld" d="M1255.9,541.5 L1265,572.2"/>
<path class="ld" d="M1122.4,675.4 H1131 L1132,650.8"/>
<path class="ld" d="M1315.9,596 L1288.1,670.5"/>
<path class="ld" d="M1346.2,718.2 H1354.8 L1395.8,701"/>
<path class="ld" d="M1508,291.9 H1499 L1496.9,356.6"/>
<path class="ld" d="M1496.9,490.4 L1499,535.6 H1508"/>
<path class="ld" d="M1496.9,609.8 L1499,638.6 H1508"/>
<text x="595.4" y="70.8" font-size="43.20" fill="#2F5597" font-weight="bold" textLength="391.5" lengthAdjust="spacingAndGlyphs" >Fed's Balance Sheet</text>
<text x="654.6" y="113.8" font-size="28.70" fill="#2F5597" font-weight="bold" textLength="273.5" lengthAdjust="spacingAndGlyphs" >In Millions of Dollars</text>
<text x="217.2" y="735.9" font-size="28.40" fill="#595959" textLength="16.2" lengthAdjust="spacingAndGlyphs"  stroke="#595959" stroke-width="0.30">0</text>
<text x="104.0" y="679.9" font-size="28.40" fill="#595959" textLength="129.4" lengthAdjust="spacingAndGlyphs"  stroke="#595959" stroke-width="0.30">1,000,000</text>
<text x="104.0" y="623.9" font-size="28.40" fill="#595959" textLength="129.4" lengthAdjust="spacingAndGlyphs"  stroke="#595959" stroke-width="0.30">2,000,000</text>
<text x="104.0" y="566.9" font-size="28.40" fill="#595959" textLength="129.4" lengthAdjust="spacingAndGlyphs"  stroke="#595959" stroke-width="0.30">3,000,000</text>
<text x="104.0" y="510.9" font-size="28.40" fill="#595959" textLength="129.4" lengthAdjust="spacingAndGlyphs"  stroke="#595959" stroke-width="0.30">4,000,000</text>
<text x="104.0" y="453.9" font-size="28.40" fill="#595959" textLength="129.4" lengthAdjust="spacingAndGlyphs"  stroke="#595959" stroke-width="0.30">5,000,000</text>
<text x="104.0" y="397.9" font-size="28.40" fill="#595959" textLength="129.4" lengthAdjust="spacingAndGlyphs"  stroke="#595959" stroke-width="0.30">6,000,000</text>
<text x="104.0" y="340.9" font-size="28.40" fill="#595959" textLength="129.4" lengthAdjust="spacingAndGlyphs"  stroke="#595959" stroke-width="0.30">7,000,000</text>
<text x="104.0" y="284.9" font-size="28.40" fill="#595959" textLength="129.4" lengthAdjust="spacingAndGlyphs"  stroke="#595959" stroke-width="0.30">8,000,000</text>
<text x="104.0" y="228.9" font-size="28.40" fill="#595959" textLength="129.4" lengthAdjust="spacingAndGlyphs"  stroke="#595959" stroke-width="0.30">9,000,000</text>
<text x="87.8" y="171.9" font-size="28.40" fill="#595959" textLength="145.6" lengthAdjust="spacingAndGlyphs"  stroke="#595959" stroke-width="0.30">10,000,000</text>
<g transform="translate(59.2,610.4) rotate(-90)">
<text x="0.0" y="0.0" font-size="33.30" fill="#2F5597" font-weight="bold" textLength="270.5" lengthAdjust="spacingAndGlyphs" >Millions of Dollars</text>
</g>
<g transform="translate(271.80,854.9) rotate(-90)">
<text x="0.0" y="0.0" font-size="22.10" fill="#595959" textLength="112.2" lengthAdjust="spacingAndGlyphs"  stroke="#595959" stroke-width="0.25">2007-01-03</text>
</g>
<g transform="translate(293.42,854.9) rotate(-90)">
<text x="0.0" y="0.0" font-size="22.10" fill="#595959" textLength="112.2" lengthAdjust="spacingAndGlyphs"  stroke="#595959" stroke-width="0.25">2007-05-03</text>
</g>
<g transform="translate(315.59,854.9) rotate(-90)">
<text x="0.0" y="0.0" font-size="22.10" fill="#595959" textLength="112.2" lengthAdjust="spacingAndGlyphs"  stroke="#595959" stroke-width="0.25">2007-09-03</text>
</g>
<g transform="translate(337.57,854.9) rotate(-90)">
<text x="0.0" y="0.0" font-size="22.10" fill="#595959" textLength="112.2" lengthAdjust="spacingAndGlyphs"  stroke="#595959" stroke-width="0.25">2008-01-03</text>
</g>
<g transform="translate(359.38,854.9) rotate(-90)">
<text x="0.0" y="0.0" font-size="22.10" fill="#595959" textLength="112.2" lengthAdjust="spacingAndGlyphs"  stroke="#595959" stroke-width="0.25">2008-05-03</text>
</g>
<g transform="translate(381.54,854.9) rotate(-90)">
<text x="0.0" y="0.0" font-size="22.10" fill="#595959" textLength="112.2" lengthAdjust="spacingAndGlyphs"  stroke="#595959" stroke-width="0.25">2008-09-03</text>
</g>
<g transform="translate(403.53,854.9) rotate(-90)">
<text x="0.0" y="0.0" font-size="22.10" fill="#595959" textLength="112.2" lengthAdjust="spacingAndGlyphs"  stroke="#595959" stroke-width="0.25">2009-01-03</text>
</g>
<g transform="translate(425.15,854.9) rotate(-90)">
<text x="0.0" y="0.0" font-size="22.10" fill="#595959" textLength="112.2" lengthAdjust="spacingAndGlyphs"  stroke="#595959" stroke-width="0.25">2009-05-03</text>
</g>
<g transform="translate(447.31,854.9) rotate(-90)">
<text x="0.0" y="0.0" font-size="22.10" fill="#595959" textLength="112.2" lengthAdjust="spacingAndGlyphs"  stroke="#595959" stroke-width="0.25">2009-09-03</text>
</g>
<g transform="translate(469.30,854.9) rotate(-90)">
<text x="0.0" y="0.0" font-size="22.10" fill="#595959" textLength="112.2" lengthAdjust="spacingAndGlyphs"  stroke="#595959" stroke-width="0.25">2010-01-03</text>
</g>
<g transform="translate(490.92,854.9) rotate(-90)">
<text x="0.0" y="0.0" font-size="22.10" fill="#595959" textLength="112.2" lengthAdjust="spacingAndGlyphs"  stroke="#595959" stroke-width="0.25">2010-05-03</text>
</g>
<g transform="translate(513.09,854.9) rotate(-90)">
<text x="0.0" y="0.0" font-size="22.10" fill="#595959" textLength="112.2" lengthAdjust="spacingAndGlyphs"  stroke="#595959" stroke-width="0.25">2010-09-03</text>
</g>
<g transform="translate(535.07,854.9) rotate(-90)">
<text x="0.0" y="0.0" font-size="22.10" fill="#595959" textLength="112.2" lengthAdjust="spacingAndGlyphs"  stroke="#595959" stroke-width="0.25">2011-01-03</text>
</g>
<g transform="translate(556.70,854.9) rotate(-90)">
<text x="0.0" y="0.0" font-size="22.10" fill="#595959" textLength="112.2" lengthAdjust="spacingAndGlyphs"  stroke="#595959" stroke-width="0.25">2011-05-03</text>
</g>
<g transform="translate(578.86,854.9) rotate(-90)">
<text x="0.0" y="0.0" font-size="22.10" fill="#595959" textLength="112.2" lengthAdjust="spacingAndGlyphs"  stroke="#595959" stroke-width="0.25">2011-09-03</text>
</g>
<g transform="translate(600.85,854.9) rotate(-90)">
<text x="0.0" y="0.0" font-size="22.10" fill="#595959" textLength="112.2" lengthAdjust="spacingAndGlyphs"  stroke="#595959" stroke-width="0.25">2012-01-03</text>
</g>
<g transform="translate(622.65,854.9) rotate(-90)">
<text x="0.0" y="0.0" font-size="22.10" fill="#595959" textLength="112.2" lengthAdjust="spacingAndGlyphs"  stroke="#595959" stroke-width="0.25">2012-05-03</text>
</g>
<g transform="translate(644.81,854.9) rotate(-90)">
<text x="0.0" y="0.0" font-size="22.10" fill="#595959" textLength="112.2" lengthAdjust="spacingAndGlyphs"  stroke="#595959" stroke-width="0.25">2012-09-03</text>
</g>
<g transform="translate(666.80,854.9) rotate(-90)">
<text x="0.0" y="0.0" font-size="22.10" fill="#595959" textLength="112.2" lengthAdjust="spacingAndGlyphs"  stroke="#595959" stroke-width="0.25">2013-01-03</text>
</g>
<g transform="translate(688.42,854.9) rotate(-90)">
<text x="0.0" y="0.0" font-size="22.10" fill="#595959" textLength="112.2" lengthAdjust="spacingAndGlyphs"  stroke="#595959" stroke-width="0.25">2013-05-03</text>
</g>
<g transform="translate(710.59,854.9) rotate(-90)">
<text x="0.0" y="0.0" font-size="22.10" fill="#595959" textLength="112.2" lengthAdjust="spacingAndGlyphs"  stroke="#595959" stroke-width="0.25">2013-09-03</text>
</g>
<g transform="translate(732.57,854.9) rotate(-90)">
<text x="0.0" y="0.0" font-size="22.10" fill="#595959" textLength="112.2" lengthAdjust="spacingAndGlyphs"  stroke="#595959" stroke-width="0.25">2014-01-03</text>
</g>
<g transform="translate(754.20,854.9) rotate(-90)">
<text x="0.0" y="0.0" font-size="22.10" fill="#595959" textLength="112.2" lengthAdjust="spacingAndGlyphs"  stroke="#595959" stroke-width="0.25">2014-05-03</text>
</g>
<g transform="translate(776.36,854.9) rotate(-90)">
<text x="0.0" y="0.0" font-size="22.10" fill="#595959" textLength="112.2" lengthAdjust="spacingAndGlyphs"  stroke="#595959" stroke-width="0.25">2014-09-03</text>
</g>
<g transform="translate(798.34,854.9) rotate(-90)">
<text x="0.0" y="0.0" font-size="22.10" fill="#595959" textLength="112.2" lengthAdjust="spacingAndGlyphs"  stroke="#595959" stroke-width="0.25">2015-01-03</text>
</g>
<g transform="translate(819.97,854.9) rotate(-90)">
<text x="0.0" y="0.0" font-size="22.10" fill="#595959" textLength="112.2" lengthAdjust="spacingAndGlyphs"  stroke="#595959" stroke-width="0.25">2015-05-03</text>
</g>
<g transform="translate(842.13,854.9) rotate(-90)">
<text x="0.0" y="0.0" font-size="22.10" fill="#595959" textLength="112.2" lengthAdjust="spacingAndGlyphs"  stroke="#595959" stroke-width="0.25">2015-09-03</text>
</g>
<g transform="translate(864.12,854.9) rotate(-90)">
<text x="0.0" y="0.0" font-size="22.10" fill="#595959" textLength="112.2" lengthAdjust="spacingAndGlyphs"  stroke="#595959" stroke-width="0.25">2016-01-03</text>
</g>
<g transform="translate(885.92,854.9) rotate(-90)">
<text x="0.0" y="0.0" font-size="22.10" fill="#595959" textLength="112.2" lengthAdjust="spacingAndGlyphs"  stroke="#595959" stroke-width="0.25">2016-05-03</text>
</g>
<g transform="translate(908.09,854.9) rotate(-90)">
<text x="0.0" y="0.0" font-size="22.10" fill="#595959" textLength="112.2" lengthAdjust="spacingAndGlyphs"  stroke="#595959" stroke-width="0.25">2016-09-03</text>
</g>
<g transform="translate(930.07,854.9) rotate(-90)">
<text x="0.0" y="0.0" font-size="22.10" fill="#595959" textLength="112.2" lengthAdjust="spacingAndGlyphs"  stroke="#595959" stroke-width="0.25">2017-01-03</text>
</g>
<g transform="translate(951.69,854.9) rotate(-90)">
<text x="0.0" y="0.0" font-size="22.10" fill="#595959" textLength="112.2" lengthAdjust="spacingAndGlyphs"  stroke="#595959" stroke-width="0.25">2017-05-03</text>
</g>
<g transform="translate(973.86,854.9) rotate(-90)">
<text x="0.0" y="0.0" font-size="22.10" fill="#595959" textLength="112.2" lengthAdjust="spacingAndGlyphs"  stroke="#595959" stroke-width="0.25">2017-09-03</text>
</g>
<g transform="translate(995.84,854.9) rotate(-90)">
<text x="0.0" y="0.0" font-size="22.10" fill="#595959" textLength="112.2" lengthAdjust="spacingAndGlyphs"  stroke="#595959" stroke-width="0.25">2018-01-03</text>
</g>
<g transform="translate(1017.47,854.9) rotate(-90)">
<text x="0.0" y="0.0" font-size="22.10" fill="#595959" textLength="112.2" lengthAdjust="spacingAndGlyphs"  stroke="#595959" stroke-width="0.25">2018-05-03</text>
</g>
<g transform="translate(1039.63,854.9) rotate(-90)">
<text x="0.0" y="0.0" font-size="22.10" fill="#595959" textLength="112.2" lengthAdjust="spacingAndGlyphs"  stroke="#595959" stroke-width="0.25">2018-09-03</text>
</g>
<g transform="translate(1061.62,854.9) rotate(-90)">
<text x="0.0" y="0.0" font-size="22.10" fill="#595959" textLength="112.2" lengthAdjust="spacingAndGlyphs"  stroke="#595959" stroke-width="0.25">2019-01-03</text>
</g>
<g transform="translate(1083.24,854.9) rotate(-90)">
<text x="0.0" y="0.0" font-size="22.10" fill="#595959" textLength="112.2" lengthAdjust="spacingAndGlyphs"  stroke="#595959" stroke-width="0.25">2019-05-03</text>
</g>
<g transform="translate(1105.41,854.9) rotate(-90)">
<text x="0.0" y="0.0" font-size="22.10" fill="#595959" textLength="112.2" lengthAdjust="spacingAndGlyphs"  stroke="#595959" stroke-width="0.25">2019-09-03</text>
</g>
<g transform="translate(1127.39,854.9) rotate(-90)">
<text x="0.0" y="0.0" font-size="22.10" fill="#595959" textLength="112.2" lengthAdjust="spacingAndGlyphs"  stroke="#595959" stroke-width="0.25">2020-01-03</text>
</g>
<g transform="translate(1149.19,854.9) rotate(-90)">
<text x="0.0" y="0.0" font-size="22.10" fill="#595959" textLength="112.2" lengthAdjust="spacingAndGlyphs"  stroke="#595959" stroke-width="0.25">2020-05-03</text>
</g>
<g transform="translate(1171.36,854.9) rotate(-90)">
<text x="0.0" y="0.0" font-size="22.10" fill="#595959" textLength="112.2" lengthAdjust="spacingAndGlyphs"  stroke="#595959" stroke-width="0.25">2020-09-03</text>
</g>
<g transform="translate(1193.34,854.9) rotate(-90)">
<text x="0.0" y="0.0" font-size="22.10" fill="#595959" textLength="112.2" lengthAdjust="spacingAndGlyphs"  stroke="#595959" stroke-width="0.25">2021-01-03</text>
</g>
<g transform="translate(1214.97,854.9) rotate(-90)">
<text x="0.0" y="0.0" font-size="22.10" fill="#595959" textLength="112.2" lengthAdjust="spacingAndGlyphs"  stroke="#595959" stroke-width="0.25">2021-05-03</text>
</g>
<g transform="translate(1237.13,854.9) rotate(-90)">
<text x="0.0" y="0.0" font-size="22.10" fill="#595959" textLength="112.2" lengthAdjust="spacingAndGlyphs"  stroke="#595959" stroke-width="0.25">2021-09-03</text>
</g>
<g transform="translate(1259.12,854.9) rotate(-90)">
<text x="0.0" y="0.0" font-size="22.10" fill="#595959" textLength="112.2" lengthAdjust="spacingAndGlyphs"  stroke="#595959" stroke-width="0.25">2022-01-03</text>
</g>
<g transform="translate(1280.74,854.9) rotate(-90)">
<text x="0.0" y="0.0" font-size="22.10" fill="#595959" textLength="112.2" lengthAdjust="spacingAndGlyphs"  stroke="#595959" stroke-width="0.25">2022-05-03</text>
</g>
<g transform="translate(1302.90,854.9) rotate(-90)">
<text x="0.0" y="0.0" font-size="22.10" fill="#595959" textLength="112.2" lengthAdjust="spacingAndGlyphs"  stroke="#595959" stroke-width="0.25">2022-09-03</text>
</g>
<g transform="translate(1324.89,854.9) rotate(-90)">
<text x="0.0" y="0.0" font-size="22.10" fill="#595959" textLength="112.2" lengthAdjust="spacingAndGlyphs"  stroke="#595959" stroke-width="0.25">2023-01-03</text>
</g>
<g transform="translate(1346.51,854.9) rotate(-90)">
<text x="0.0" y="0.0" font-size="22.10" fill="#595959" textLength="112.2" lengthAdjust="spacingAndGlyphs"  stroke="#595959" stroke-width="0.25">2023-05-03</text>
</g>
<g transform="translate(1368.68,854.9) rotate(-90)">
<text x="0.0" y="0.0" font-size="22.10" fill="#595959" textLength="112.2" lengthAdjust="spacingAndGlyphs"  stroke="#595959" stroke-width="0.25">2023-09-03</text>
</g>
<g transform="translate(1390.66,854.9) rotate(-90)">
<text x="0.0" y="0.0" font-size="22.10" fill="#595959" textLength="112.2" lengthAdjust="spacingAndGlyphs"  stroke="#595959" stroke-width="0.25">2024-01-03</text>
</g>
<g transform="translate(1412.47,854.9) rotate(-90)">
<text x="0.0" y="0.0" font-size="22.10" fill="#595959" textLength="112.2" lengthAdjust="spacingAndGlyphs"  stroke="#595959" stroke-width="0.25">2024-05-03</text>
</g>
<g transform="translate(1434.63,854.9) rotate(-90)">
<text x="0.0" y="0.0" font-size="22.10" fill="#595959" textLength="112.2" lengthAdjust="spacingAndGlyphs"  stroke="#595959" stroke-width="0.25">2024-09-03</text>
</g>
<g transform="translate(1456.62,854.9) rotate(-90)">
<text x="0.0" y="0.0" font-size="22.10" fill="#595959" textLength="112.2" lengthAdjust="spacingAndGlyphs"  stroke="#595959" stroke-width="0.25">2025-01-03</text>
</g>
<g transform="translate(1478.24,854.9) rotate(-90)">
<text x="0.0" y="0.0" font-size="22.10" fill="#595959" textLength="112.2" lengthAdjust="spacingAndGlyphs"  stroke="#595959" stroke-width="0.25">2025-05-03</text>
</g>
<g transform="translate(1500.40,854.9) rotate(-90)">
<text x="0.0" y="0.0" font-size="22.10" fill="#595959" textLength="112.2" lengthAdjust="spacingAndGlyphs"  stroke="#595959" stroke-width="0.25">2025-09-03</text>
</g>
<line x1="278.2" x2="316.6" y1="882.9" y2="882.9" stroke="#2F5597" stroke-width="4.0" stroke-linecap="round"/>
<text x="320.8" y="891.9" font-size="28.60" fill="#595959" textLength="155.8" lengthAdjust="spacingAndGlyphs"  stroke="#595959" stroke-width="0.30">Total Assets</text>
<line x1="278.2" x2="316.6" y1="917.9" y2="917.9" stroke="#843C0C" stroke-width="4.0" stroke-linecap="round"/>
<text x="321.3" y="926.3" font-size="28.60" fill="#595959" textLength="244.0" lengthAdjust="spacingAndGlyphs"  stroke="#595959" stroke-width="0.30">MBS Held Outright</text>
<line x1="278.6" x2="316.2" y1="952.4" y2="952.4" stroke="#8FAADC" stroke-width="5.0" stroke-linecap="round"/>
<text x="321.3" y="961.2" font-size="28.60" fill="#595959" textLength="189.0" lengthAdjust="spacingAndGlyphs"  stroke="#595959" stroke-width="0.30">Reverse Repos</text>
<line x1="846.2" x2="884.2" y1="882.7" y2="882.7" stroke="#BF9000" stroke-width="4.0" stroke-linecap="round"/>
<text x="888.8" y="891.9" font-size="28.60" fill="#595959" textLength="473.2" lengthAdjust="spacingAndGlyphs"  stroke="#595959" stroke-width="0.30">US Treasury Securities Held Outright</text>
<line x1="846.2" x2="884.2" y1="917.8" y2="917.8" stroke="#548235" stroke-width="4.0" stroke-linecap="round"/>
<text x="888.8" y="926.3" font-size="28.60" fill="#595959" textLength="442.2" lengthAdjust="spacingAndGlyphs"  stroke="#595959" stroke-width="0.30">MBS + Treasuries Owned Outright</text>
<text x="1059.9" y="169.8" font-size="21.50" fill="#2F5597" textLength="97.3" lengthAdjust="spacingAndGlyphs"  stroke="#2F5597" stroke-width="0.30">8,965,487</text>
<text x="956.8" y="258.9" font-size="21.50" fill="#548235" textLength="97.2" lengthAdjust="spacingAndGlyphs"  stroke="#548235" stroke-width="0.30">8,502,239</text>
<text x="1513.7" y="300.0" font-size="21.50" fill="#2F5597" textLength="96.1" lengthAdjust="spacingAndGlyphs"  stroke="#2F5597" stroke-width="0.30">6,587,119</text>
<text x="1513.5" y="381.2" font-size="21.50" fill="#548235" textLength="96.8" lengthAdjust="spacingAndGlyphs"  stroke="#548235" stroke-width="0.30">6,282,368</text>
<text x="1209.0" y="372.0" font-size="21.50" fill="#BF9000" textLength="97.0" lengthAdjust="spacingAndGlyphs"  stroke="#BF9000" stroke-width="0.30">5,771,393</text>
<text x="1016.8" y="443.4" font-size="21.50" fill="#2F5597" textLength="97.4" lengthAdjust="spacingAndGlyphs"  stroke="#2F5597" stroke-width="0.30">4,158,637</text>
<text x="957.8" y="539.4" font-size="21.50" fill="#548235" textLength="96.2" lengthAdjust="spacingAndGlyphs"  stroke="#548235" stroke-width="0.30">3,894,877</text>
<text x="1513.5" y="543.1" font-size="21.50" fill="#BF9000" textLength="96.3" lengthAdjust="spacingAndGlyphs"  stroke="#BF9000" stroke-width="0.30">4,196,385</text>
<text x="1207.6" y="531.3" font-size="21.50" fill="#843C0C" textLength="96.2" lengthAdjust="spacingAndGlyphs"  stroke="#843C0C" stroke-width="0.30">2,740,185</text>
<text x="1006.0" y="583.0" font-size="21.50" fill="#BF9000" textLength="96.4" lengthAdjust="spacingAndGlyphs"  stroke="#BF9000" stroke-width="0.30">2,523,031</text>
<text x="1513.5" y="646.5" font-size="21.50" fill="#843C0C" textLength="96.3" lengthAdjust="spacingAndGlyphs"  stroke="#843C0C" stroke-width="0.30">2,085,983</text>
<text x="1019.8" y="684.9" font-size="21.50" fill="#843C0C" textLength="96.2" lengthAdjust="spacingAndGlyphs"  stroke="#843C0C" stroke-width="0.30">1,366,676</text>
<text x="1239.5" y="696.4" font-size="21.50" fill="#8FAADC" textLength="96.3" lengthAdjust="spacingAndGlyphs"  stroke="#8FAADC" stroke-width="0.30">2,319,962</text>
<text x="1260.2" y="725.1" font-size="21.50" fill="#8FAADC" textLength="79.5" lengthAdjust="spacingAndGlyphs"  stroke="#8FAADC" stroke-width="0.30">456,254</text>
<text x="1513.5" y="710.2" font-size="21.50" fill="#8FAADC" textLength="78.9" lengthAdjust="spacingAndGlyphs"  stroke="#8FAADC" stroke-width="0.30">456,254</text>
<text x="482.8" y="254.1" font-size="19.40" fill="#2F5597" textLength="99.4" lengthAdjust="spacingAndGlyphs"  stroke="#2F5597" stroke-width="0.25">Peak Dates</text>
<text x="482.8" y="307.6" font-size="19.40" fill="#2F5597" textLength="158.5" lengthAdjust="spacingAndGlyphs"  stroke="#2F5597" stroke-width="0.25">Total: 2022-04-13</text>
<text x="482.8" y="334.4" font-size="19.40" fill="#2F5597" textLength="234.9" lengthAdjust="spacingAndGlyphs"  stroke="#2F5597" stroke-width="0.25">US Treasuries: 2022-06-08</text>
<text x="482.8" y="361.1" font-size="19.40" fill="#2F5597" textLength="154.3" lengthAdjust="spacingAndGlyphs"  stroke="#2F5597" stroke-width="0.25">MBS: 2022-04-13</text>
<text x="482.8" y="387.9" font-size="19.40" fill="#2F5597" textLength="267.6" lengthAdjust="spacingAndGlyphs"  stroke="#2F5597" stroke-width="0.25">MBS + Treasuries: 2022-04-13</text>
<text x="482.8" y="414.6" font-size="19.40" fill="#2F5597" textLength="244.3" lengthAdjust="spacingAndGlyphs"  stroke="#2F5597" stroke-width="0.25">Reverse Repos: 2023-01-04</text>
<text x="1465.0" y="207.9" font-size="22.10" fill="#2F5597" font-weight="bold" textLength="143.4" lengthAdjust="spacingAndGlyphs" >Are These Big</text>
<text x="1490.9" y="231.7" font-size="22.10" fill="#2F5597" font-weight="bold" textLength="92.4" lengthAdjust="spacingAndGlyphs" >Enough?</text>
<text x="736.6" y="1012.7" font-size="28.30" fill="#2F5597" font-weight="bold" textLength="117.0" lengthAdjust="spacingAndGlyphs" >MishTalk</text>
</svg></body></html>
